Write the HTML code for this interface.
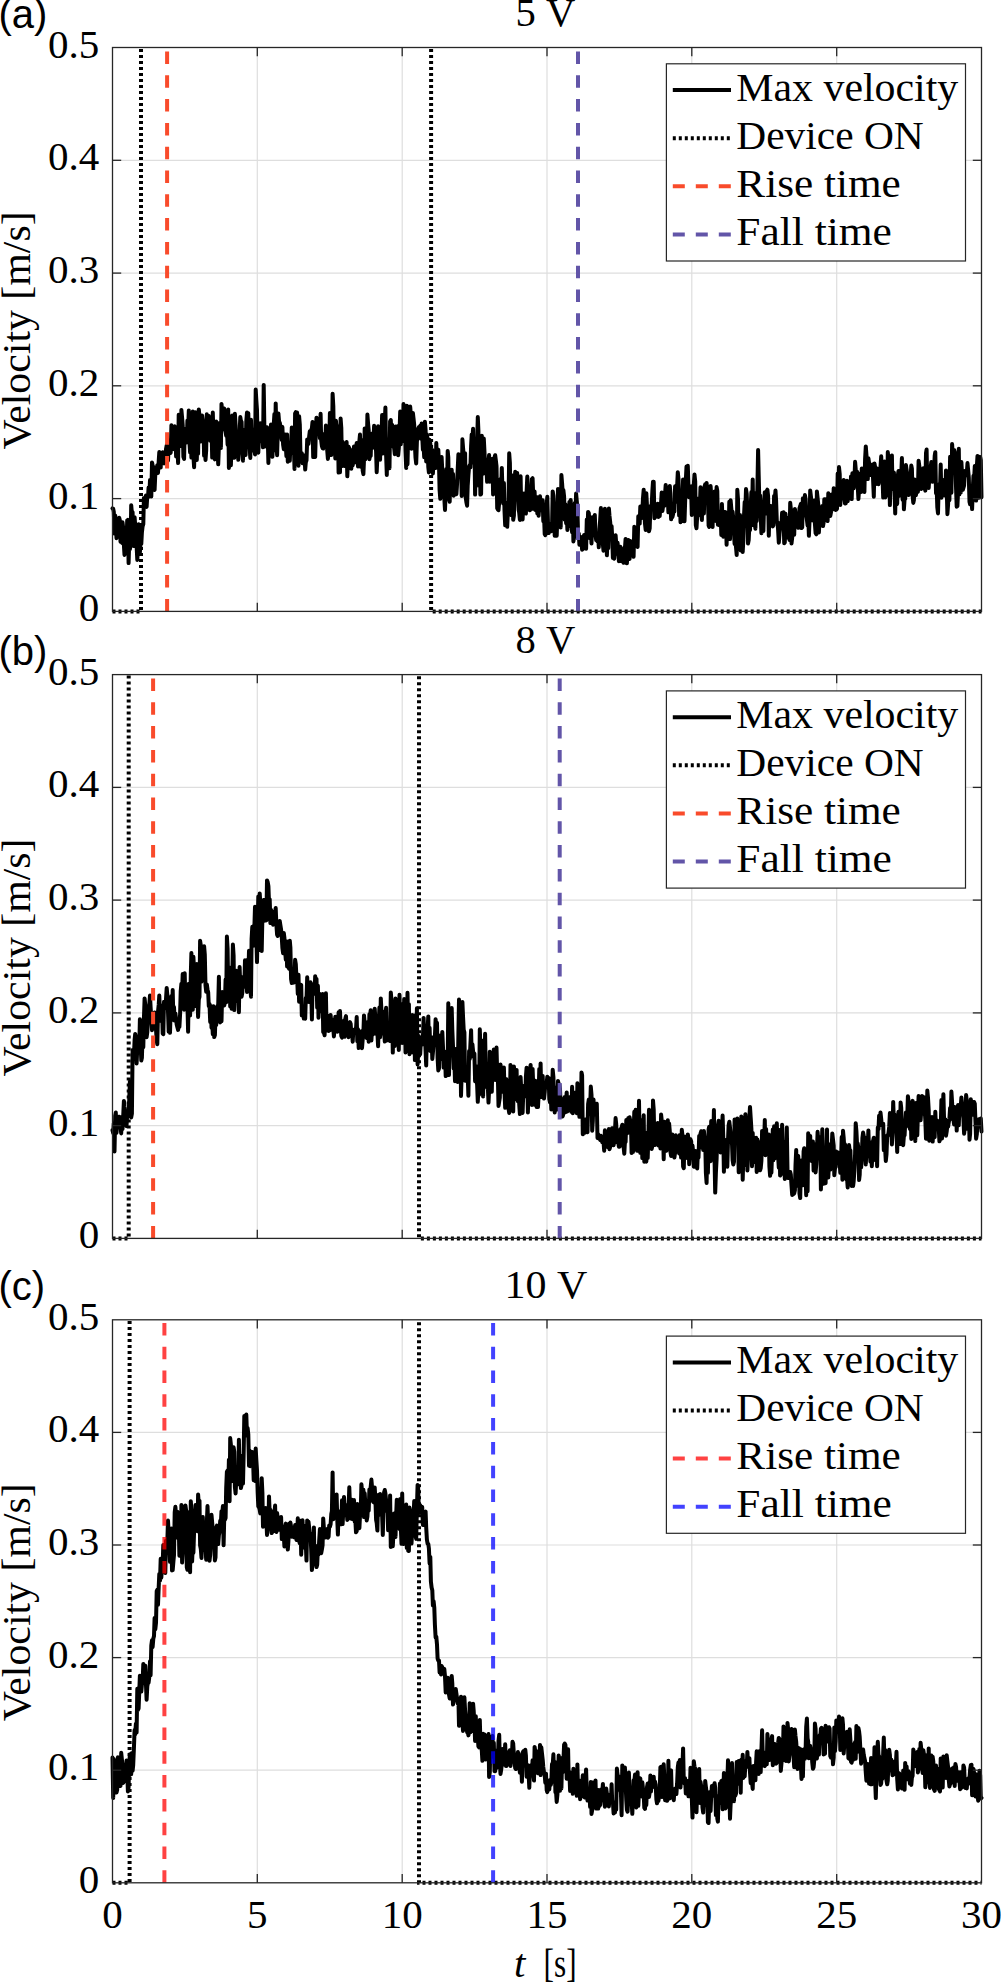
<!DOCTYPE html>
<html><head><meta charset="utf-8"><title>Velocity plots</title>
<style>
html,body{margin:0;padding:0;background:#fff;}
body{width:1001px;height:1987px;overflow:hidden;}
svg{display:block;}
.tk{font-family:"Liberation Serif", serif;font-size:41px;fill:#000;}
.lg{font-family:"Liberation Serif", serif;font-size:40px;fill:#000;}
.pl{font-family:"Liberation Sans", sans-serif;font-size:40px;fill:#000;}
</style></head>
<body>
<svg width="1001" height="1987" viewBox="0 0 1001 1987">
<rect width="1001" height="1987" fill="#fff"/>
<clipPath id="clipa"><rect x="110.0" y="47.5" width="874.0" height="566.4"/></clipPath>
<line x1="257.3" y1="47.5" x2="257.3" y2="611.4" stroke="#DEDEDE" stroke-width="1.2"/>
<line x1="402.2" y1="47.5" x2="402.2" y2="611.4" stroke="#DEDEDE" stroke-width="1.2"/>
<line x1="547.0" y1="47.5" x2="547.0" y2="611.4" stroke="#DEDEDE" stroke-width="1.2"/>
<line x1="691.8" y1="47.5" x2="691.8" y2="611.4" stroke="#DEDEDE" stroke-width="1.2"/>
<line x1="836.7" y1="47.5" x2="836.7" y2="611.4" stroke="#DEDEDE" stroke-width="1.2"/>
<line x1="112.5" y1="498.6" x2="981.5" y2="498.6" stroke="#DEDEDE" stroke-width="1.2"/>
<line x1="112.5" y1="385.8" x2="981.5" y2="385.8" stroke="#DEDEDE" stroke-width="1.2"/>
<line x1="112.5" y1="273.1" x2="981.5" y2="273.1" stroke="#DEDEDE" stroke-width="1.2"/>
<line x1="112.5" y1="160.3" x2="981.5" y2="160.3" stroke="#DEDEDE" stroke-width="1.2"/>
<g clip-path="url(#clipa)">
<polyline fill="none" stroke="#000" stroke-width="4" stroke-linejoin="round" stroke-linecap="round" points="112.5,508.4 113.2,508.8 113.8,511.8 114.5,533.6 115.2,515.5 115.8,520.3 116.5,538.2 117.2,527.1 117.9,533.3 118.5,523.4 119.2,517.7 119.9,520.5 120.5,541.7 121.2,541.6 121.9,542.8 122.5,522.2 123.2,528.1 123.9,545.2 124.5,554.9 125.2,547.1 125.9,533.7 126.5,543.8 127.2,520.5 127.9,519.8 128.6,563.1 129.2,542.4 129.9,549.1 130.6,544.9 131.2,505.2 131.9,513.2 132.6,512.2 133.2,535.0 133.9,546.0 134.6,517.2 135.2,525.7 135.9,525.9 136.6,546.0 137.3,560.0 137.9,549.5 138.6,524.2 139.3,553.8 139.9,552.2 140.6,542.2 141.3,543.8 141.9,532.4 142.6,526.3 143.3,524.2 143.9,497.9 144.6,498.1 145.3,498.2 145.9,495.6 146.6,507.0 147.3,495.6 148.0,497.3 148.6,487.5 149.3,496.1 150.0,480.1 150.6,487.0 151.3,496.5 152.0,462.4 152.6,465.0 153.3,467.6 154.0,488.6 154.6,490.0 155.3,473.7 156.0,473.9 156.7,468.7 157.3,465.2 158.0,472.9 158.7,461.4 159.3,452.1 160.0,459.1 160.7,467.6 161.3,455.7 162.0,457.3 162.7,452.2 163.3,456.7 164.0,463.4 164.7,456.5 165.3,458.9 166.0,449.2 166.7,445.3 167.4,451.1 168.0,460.7 168.7,446.6 169.4,440.2 170.0,453.1 170.7,452.8 171.4,425.3 172.0,438.6 172.7,437.7 173.4,438.7 174.0,449.2 174.7,426.2 175.4,429.2 176.1,456.4 176.7,452.6 177.4,447.6 178.1,463.1 178.7,414.7 179.4,421.3 180.1,433.2 180.7,446.1 181.4,409.9 182.1,417.6 182.7,425.2 183.4,456.9 184.1,458.9 184.7,429.0 185.4,436.8 186.1,438.9 186.8,442.4 187.4,420.5 188.1,429.2 188.8,410.5 189.4,441.9 190.1,452.3 190.8,438.7 191.4,457.6 192.1,443.0 192.8,411.5 193.4,456.0 194.1,467.2 194.8,441.8 195.5,412.3 196.1,444.5 196.8,459.9 197.5,433.6 198.1,453.6 198.8,409.5 199.5,416.0 200.1,422.6 200.8,441.5 201.5,430.5 202.1,415.4 202.8,420.5 203.5,425.6 204.1,455.8 204.8,446.6 205.5,460.0 206.2,450.2 206.8,414.3 207.5,423.9 208.2,419.1 208.8,415.9 209.5,421.6 210.2,440.7 210.8,434.4 211.5,426.4 212.2,457.6 212.8,412.6 213.5,437.7 214.2,455.1 214.9,459.4 215.5,456.0 216.2,421.5 216.9,440.1 217.5,443.7 218.2,464.3 218.9,446.3 219.5,423.0 220.2,438.3 220.9,448.0 221.5,403.9 222.2,412.4 222.9,429.3 223.6,411.4 224.2,408.5 224.9,427.1 225.6,431.9 226.2,435.8 226.9,429.2 227.6,444.7 228.2,409.5 228.9,468.0 229.6,445.5 230.2,452.9 230.9,465.3 231.6,433.7 232.2,415.4 232.9,424.2 233.6,440.8 234.3,457.8 234.9,413.8 235.6,425.1 236.3,456.1 236.9,439.2 237.6,444.9 238.3,459.8 238.9,449.0 239.6,432.6 240.3,417.0 240.9,420.7 241.6,422.0 242.3,448.5 243.0,460.7 243.6,431.5 244.3,432.9 245.0,429.6 245.6,455.0 246.3,421.2 247.0,412.4 247.6,447.0 248.3,413.3 249.0,444.3 249.6,446.0 250.3,457.9 251.0,419.8 251.6,443.5 252.3,450.6 253.0,429.6 253.7,446.5 254.3,447.1 255.0,454.4 255.7,389.5 256.3,399.9 257.0,410.2 257.7,447.1 258.3,452.7 259.0,435.0 259.7,441.8 260.3,423.3 261.0,437.3 261.7,431.1 262.4,432.1 263.0,447.3 263.7,384.9 264.4,429.0 265.0,446.4 265.7,431.7 266.4,427.3 267.0,427.2 267.7,434.6 268.4,463.0 269.0,435.4 269.7,435.1 270.4,451.4 271.0,424.6 271.7,445.0 272.4,456.8 273.1,443.6 273.7,425.5 274.4,414.0 275.1,450.3 275.7,403.4 276.4,431.9 277.1,455.3 277.7,434.2 278.4,413.4 279.1,421.8 279.7,422.5 280.4,426.0 281.1,433.6 281.8,440.0 282.4,427.1 283.1,444.7 283.8,449.2 284.4,442.9 285.1,434.4 285.8,445.5 286.4,456.1 287.1,434.5 287.8,461.8 288.4,460.8 289.1,448.4 289.8,460.8 290.4,444.4 291.1,446.4 291.8,427.4 292.5,453.0 293.1,446.8 293.8,441.5 294.5,468.9 295.1,413.5 295.8,412.2 296.5,456.5 297.1,412.6 297.8,428.0 298.5,465.8 299.1,416.2 299.8,424.4 300.5,455.7 301.2,460.3 301.8,453.2 302.5,463.2 303.2,455.3 303.8,455.4 304.5,455.6 305.2,469.6 305.8,462.4 306.5,460.4 307.2,439.4 307.8,440.9 308.5,443.7 309.2,436.2 309.8,431.2 310.5,434.9 311.2,429.9 311.9,428.1 312.5,422.0 313.2,457.1 313.9,444.2 314.5,450.8 315.2,456.9 315.9,427.0 316.5,417.7 317.2,419.6 317.9,420.3 318.5,433.4 319.2,428.0 319.9,438.1 320.6,413.7 321.2,440.6 321.9,446.1 322.6,448.2 323.2,448.5 323.9,434.0 324.6,445.1 325.2,444.5 325.9,425.6 326.6,429.2 327.2,450.0 327.9,458.9 328.6,450.7 329.2,448.5 329.9,413.1 330.6,418.8 331.3,455.1 331.9,447.5 332.6,393.7 333.3,405.8 333.9,438.6 334.6,436.6 335.3,458.4 335.9,420.8 336.6,427.6 337.3,434.4 337.9,426.2 338.6,472.6 339.3,459.1 340.0,472.3 340.6,418.5 341.3,427.9 342.0,466.1 342.6,441.8 343.3,450.4 344.0,459.9 344.6,466.1 345.3,465.8 346.0,444.5 346.6,442.0 347.3,476.3 348.0,460.2 348.6,446.8 349.3,448.4 350.0,449.4 350.7,450.3 351.3,468.7 352.0,452.9 352.7,465.4 353.3,457.8 354.0,446.4 354.7,462.6 355.3,457.0 356.0,448.1 356.7,443.1 357.3,449.2 358.0,466.5 358.7,457.5 359.4,441.0 360.0,434.5 360.7,466.7 361.4,463.6 362.0,439.9 362.7,470.6 363.4,474.1 364.0,460.0 364.7,428.4 365.4,459.2 366.0,449.6 366.7,453.0 367.4,414.5 368.0,422.3 368.7,430.1 369.4,459.3 370.1,454.7 370.7,455.9 371.4,433.8 372.1,437.4 372.7,447.8 373.4,442.9 374.1,425.8 374.7,445.1 375.4,443.1 376.1,451.6 376.7,472.2 377.4,456.6 378.1,426.3 378.8,453.9 379.4,431.8 380.1,459.8 380.8,427.2 381.4,444.2 382.1,415.1 382.8,453.4 383.4,427.3 384.1,414.4 384.8,421.6 385.4,407.6 386.1,454.1 386.8,475.0 387.4,439.2 388.1,460.0 388.8,453.4 389.5,468.2 390.1,421.4 390.8,420.1 391.5,438.2 392.1,424.7 392.8,439.4 393.5,446.9 394.1,447.6 394.8,454.3 395.5,426.4 396.1,430.0 396.8,430.8 397.5,426.2 398.2,455.3 398.8,448.3 399.5,432.8 400.2,411.5 400.8,444.2 401.5,417.0 402.2,436.1 402.8,441.0 403.5,404.1 404.2,413.3 404.8,418.6 405.5,450.9 406.2,467.9 406.8,405.8 407.5,464.2 408.2,432.9 408.9,422.0 409.5,425.0 410.2,406.6 410.9,415.9 411.5,448.8 412.2,439.3 412.9,413.1 413.5,418.2 414.2,424.7 414.9,445.3 415.5,457.4 416.2,463.5 416.9,441.5 417.6,436.3 418.2,428.6 418.9,427.2 419.6,429.0 420.2,425.9 420.9,438.7 421.6,423.5 422.2,435.8 422.9,449.7 423.6,446.0 424.2,457.2 424.9,421.7 425.6,430.0 426.2,461.4 426.9,434.3 427.6,439.9 428.3,467.1 428.9,472.5 429.6,439.8 430.3,443.7 430.9,450.5 431.6,461.4 432.3,450.1 432.9,473.5 433.6,459.1 434.3,461.9 434.9,458.9 435.6,467.9 436.3,443.1 437.0,463.6 437.6,449.5 438.3,449.7 439.0,464.1 439.6,490.1 440.3,498.8 441.0,467.9 441.6,456.9 442.3,470.8 443.0,481.2 443.6,492.1 444.3,498.2 445.0,509.9 445.7,489.7 446.3,468.9 447.0,491.3 447.7,450.9 448.3,457.4 449.0,498.7 449.7,501.8 450.3,475.9 451.0,488.3 451.7,469.7 452.3,488.6 453.0,473.9 453.7,495.7 454.3,493.5 455.0,493.1 455.7,486.8 456.4,494.2 457.0,484.8 457.7,469.5 458.4,454.3 459.0,455.1 459.7,468.4 460.4,454.6 461.0,464.9 461.7,495.9 462.4,439.3 463.0,447.2 463.7,455.1 464.4,468.1 465.1,453.2 465.7,497.5 466.4,502.3 467.1,505.7 467.7,485.6 468.4,475.2 469.1,466.8 469.7,465.2 470.4,467.4 471.1,446.0 471.7,434.4 472.4,438.2 473.1,428.7 473.7,462.8 474.4,439.9 475.1,494.6 475.8,459.3 476.4,477.7 477.1,443.9 477.8,417.1 478.4,430.6 479.1,486.0 479.8,456.4 480.4,494.6 481.1,494.1 481.8,435.7 482.4,444.9 483.1,473.7 483.8,438.6 484.5,452.1 485.1,470.5 485.8,473.0 486.5,468.4 487.1,481.8 487.8,471.2 488.5,460.7 489.1,455.0 489.8,481.7 490.5,476.3 491.1,476.1 491.8,458.9 492.5,461.9 493.1,494.4 493.8,482.7 494.5,457.4 495.2,455.2 495.8,460.1 496.5,465.9 497.2,508.1 497.8,509.4 498.5,510.2 499.2,502.3 499.8,484.3 500.5,479.1 501.2,490.1 501.8,467.9 502.5,490.9 503.2,503.4 503.9,483.1 504.5,510.3 505.2,525.3 505.9,520.2 506.5,503.3 507.2,526.8 507.9,511.3 508.5,504.8 509.2,453.3 509.9,463.1 510.5,514.1 511.2,515.0 511.9,486.9 512.5,475.4 513.2,519.8 513.9,515.6 514.6,484.4 515.2,471.8 515.9,477.6 516.6,483.4 517.2,473.1 517.9,493.8 518.6,509.7 519.2,512.7 519.9,519.9 520.6,476.2 521.2,509.6 521.9,502.3 522.6,519.4 523.3,503.2 523.9,493.4 524.6,508.7 525.3,513.2 525.9,513.5 526.6,491.6 527.3,476.6 527.9,486.9 528.6,493.9 529.3,501.8 529.9,510.3 530.6,501.3 531.3,509.0 531.9,479.0 532.6,478.2 533.3,498.0 534.0,508.8 534.6,491.6 535.3,509.9 536.0,507.3 536.6,497.0 537.3,513.3 538.0,511.0 538.6,515.8 539.3,504.7 540.0,496.2 540.6,501.5 541.3,502.4 542.0,510.5 542.7,500.3 543.3,521.3 544.0,514.8 544.7,534.0 545.3,535.2 546.0,530.9 546.7,504.6 547.3,496.8 548.0,523.2 548.7,533.1 549.3,530.0 550.0,524.1 550.7,524.0 551.3,531.3 552.0,528.7 552.7,491.4 553.4,495.8 554.0,508.7 554.7,535.8 555.4,516.8 556.0,520.7 556.7,535.8 557.4,514.9 558.0,488.9 558.7,490.0 559.4,494.5 560.0,499.0 560.7,527.4 561.4,475.0 562.1,483.3 562.7,492.3 563.4,490.1 564.1,496.5 564.7,519.6 565.4,504.3 566.1,523.3 566.7,512.9 567.4,529.9 568.1,516.8 568.7,526.2 569.4,501.9 570.1,506.6 570.7,500.0 571.4,524.9 572.1,532.4 572.8,511.8 573.4,541.4 574.1,537.1 574.8,503.0 575.4,516.0 576.1,493.5 576.8,501.3 577.4,509.2 578.1,534.4 578.8,533.7 579.4,544.7 580.1,540.1 580.8,536.9 581.5,540.3 582.1,549.7 582.8,549.1 583.5,544.7 584.1,534.9 584.8,539.0 585.5,542.0 586.1,548.7 586.8,519.6 587.5,529.7 588.1,511.9 588.8,513.0 589.5,523.7 590.1,538.3 590.8,528.8 591.5,543.4 592.2,517.3 592.8,524.4 593.5,525.5 594.2,522.6 594.8,514.9 595.5,535.1 596.2,540.1 596.8,540.2 597.5,541.4 598.2,537.5 598.8,547.3 599.5,528.6 600.2,519.3 600.9,508.0 601.5,526.0 602.2,532.0 602.9,544.5 603.5,550.7 604.2,532.9 604.9,508.8 605.5,541.5 606.2,529.8 606.9,555.3 607.5,539.8 608.2,548.1 608.9,508.4 609.5,515.9 610.2,522.2 610.9,531.9 611.6,526.2 612.2,537.1 612.9,557.9 613.6,555.6 614.2,558.7 614.9,548.6 615.6,535.2 616.2,543.5 616.9,553.8 617.6,542.8 618.2,550.1 618.9,561.2 619.6,553.9 620.3,546.8 620.9,556.1 621.6,561.3 622.3,552.5 622.9,559.6 623.6,562.7 624.3,547.7 624.9,548.8 625.6,539.0 626.3,555.0 626.9,563.3 627.6,547.9 628.3,539.9 628.9,552.4 629.6,558.9 630.3,541.1 631.0,554.6 631.6,543.6 632.3,555.2 633.0,547.6 633.6,556.8 634.3,526.7 635.0,529.4 635.6,532.2 636.3,530.8 637.0,542.8 637.6,546.9 638.3,516.2 639.0,523.8 639.7,523.6 640.3,506.5 641.0,516.6 641.7,517.9 642.3,512.1 643.0,498.2 643.7,489.7 644.3,511.1 645.0,523.8 645.7,530.1 646.3,493.2 647.0,505.9 647.7,519.4 648.3,515.1 649.0,531.3 649.7,528.3 650.4,506.6 651.0,505.7 651.7,504.5 652.4,490.7 653.0,481.7 653.7,481.7 654.4,518.2 655.0,512.1 655.7,516.9 656.4,509.0 657.0,511.0 657.7,503.7 658.4,517.0 659.1,512.4 659.7,516.1 660.4,505.8 661.1,502.4 661.7,492.6 662.4,511.0 663.1,506.0 663.7,493.9 664.4,505.8 665.1,493.3 665.7,484.9 666.4,497.3 667.1,492.4 667.8,497.8 668.4,512.3 669.1,502.4 669.8,485.9 670.4,493.1 671.1,519.3 671.8,504.8 672.4,517.1 673.1,514.0 673.8,506.4 674.4,511.6 675.1,486.3 675.8,501.8 676.4,488.1 677.1,486.5 677.8,472.2 678.5,479.1 679.1,515.5 679.8,492.8 680.5,522.3 681.1,516.7 681.8,497.3 682.5,492.5 683.1,479.4 683.8,521.3 684.5,521.3 685.1,502.9 685.8,480.5 686.5,466.6 687.2,480.1 687.8,465.7 688.5,487.7 689.2,497.3 689.8,486.2 690.5,487.8 691.2,493.1 691.8,514.9 692.5,486.0 693.2,504.3 693.8,484.8 694.5,474.4 695.2,481.4 695.8,525.0 696.5,528.2 697.2,515.8 697.9,515.7 698.5,498.6 699.2,514.3 699.9,505.1 700.5,487.2 701.2,512.2 701.9,520.0 702.5,491.3 703.2,497.9 703.9,513.4 704.5,486.5 705.2,484.3 705.9,494.2 706.6,483.0 707.2,489.7 707.9,496.4 708.6,525.5 709.2,526.9 709.9,520.5 710.6,486.1 711.2,495.7 711.9,503.9 712.6,527.0 713.2,492.8 713.9,498.1 714.6,491.5 715.2,497.8 715.9,520.9 716.6,487.0 717.3,490.8 717.9,524.7 718.6,513.3 719.3,525.2 719.9,518.6 720.6,511.2 721.3,535.0 721.9,503.9 722.6,522.1 723.3,536.7 723.9,520.0 724.6,512.0 725.3,512.0 726.0,520.2 726.6,544.8 727.3,518.0 728.0,528.9 728.6,535.3 729.3,501.8 730.0,539.1 730.6,500.3 731.3,508.1 732.0,516.0 732.6,511.8 733.3,518.8 734.0,533.3 734.6,544.0 735.3,539.1 736.0,547.0 736.7,555.0 737.3,489.8 738.0,499.2 738.7,547.2 739.3,524.0 740.0,515.0 740.7,550.4 741.3,527.3 742.0,534.2 742.7,551.9 743.3,540.6 744.0,515.8 744.7,501.9 745.4,508.0 746.0,489.1 746.7,493.7 747.4,512.4 748.0,543.5 748.7,540.0 749.4,525.0 750.0,530.2 750.7,506.3 751.4,492.1 752.0,513.9 752.7,479.5 753.4,525.3 754.0,492.8 754.7,519.0 755.4,528.7 756.1,505.1 756.7,521.0 757.4,487.3 758.1,450.0 758.7,475.6 759.4,503.3 760.1,495.5 760.7,515.4 761.4,533.2 762.1,509.1 762.7,507.0 763.4,531.0 764.1,502.6 764.8,492.2 765.4,501.7 766.1,513.4 766.8,490.9 767.4,489.7 768.1,496.0 768.8,535.8 769.4,513.8 770.1,517.5 770.8,505.9 771.4,506.7 772.1,507.4 772.8,526.4 773.4,525.2 774.1,495.9 774.8,498.3 775.5,490.5 776.1,500.6 776.8,521.0 777.5,523.1 778.1,529.9 778.8,542.7 779.5,533.6 780.1,527.8 780.8,522.6 781.5,524.3 782.1,512.7 782.8,524.3 783.5,512.3 784.2,543.3 784.8,542.5 785.5,513.7 786.2,537.5 786.8,533.3 787.5,533.3 788.2,534.0 788.8,517.4 789.5,539.9 790.2,502.7 790.8,508.5 791.5,543.5 792.2,537.6 792.8,510.5 793.5,520.9 794.2,534.7 794.9,509.1 795.5,513.3 796.2,525.0 796.9,513.5 797.5,525.2 798.2,527.8 798.9,520.8 799.5,508.1 800.2,506.3 800.9,503.8 801.5,528.1 802.2,527.4 802.9,498.3 803.6,515.6 804.2,506.4 804.9,495.0 805.6,499.0 806.2,514.0 806.9,519.7 807.6,525.5 808.2,514.3 808.9,535.8 809.6,518.6 810.2,490.5 810.9,496.3 811.6,502.2 812.2,508.2 812.9,520.4 813.6,503.0 814.3,500.5 814.9,523.7 815.6,533.1 816.3,534.3 816.9,491.4 817.6,498.0 818.3,504.6 818.9,532.4 819.6,518.3 820.3,519.7 820.9,518.0 821.6,515.2 822.3,506.0 823.0,526.1 823.6,522.6 824.3,499.2 825.0,499.3 825.6,502.3 826.3,499.3 827.0,520.4 827.6,521.0 828.3,493.3 829.0,509.6 829.6,499.1 830.3,516.0 831.0,512.1 831.6,494.5 832.3,509.7 833.0,508.9 833.7,488.2 834.3,498.9 835.0,505.2 835.7,509.9 836.3,509.5 837.0,508.8 837.7,473.5 838.3,496.0 839.0,467.1 839.7,473.9 840.3,504.9 841.0,485.5 841.7,498.5 842.4,485.2 843.0,496.3 843.7,480.1 844.4,499.1 845.0,503.5 845.7,503.3 846.4,492.4 847.0,480.7 847.7,501.2 848.4,495.7 849.0,498.2 849.7,487.5 850.4,492.4 851.0,476.4 851.7,499.1 852.4,473.2 853.1,484.3 853.7,488.2 854.4,480.4 855.1,461.8 855.7,468.8 856.4,482.4 857.1,471.8 857.7,485.4 858.4,499.1 859.1,489.5 859.7,482.5 860.4,473.4 861.1,491.9 861.8,468.4 862.4,470.0 863.1,474.0 863.8,485.5 864.4,492.0 865.1,458.8 865.8,446.4 866.4,454.3 867.1,462.1 867.8,479.1 868.4,458.2 869.1,463.1 869.8,468.1 870.4,475.1 871.1,472.2 871.8,474.1 872.5,464.4 873.1,479.6 873.8,496.7 874.5,463.5 875.1,467.1 875.8,484.2 876.5,474.0 877.1,468.6 877.8,474.5 878.5,484.2 879.1,480.8 879.8,477.2 880.5,467.0 881.2,456.3 881.8,472.1 882.5,475.9 883.2,497.6 883.8,496.1 884.5,461.5 885.2,497.5 885.8,463.9 886.5,468.2 887.2,495.4 887.8,452.1 888.5,459.6 889.2,467.1 889.9,505.1 890.5,483.3 891.2,456.5 891.9,455.5 892.5,489.1 893.2,473.1 893.9,472.6 894.5,488.4 895.2,513.5 895.9,478.6 896.5,502.9 897.2,503.8 897.9,475.1 898.5,471.1 899.2,495.9 899.9,489.1 900.6,494.9 901.2,475.6 901.9,458.0 902.6,499.7 903.2,477.7 903.9,509.3 904.6,498.8 905.2,498.9 905.9,465.0 906.6,469.8 907.2,474.5 907.9,489.0 908.6,495.0 909.3,486.8 909.9,480.0 910.6,476.8 911.3,465.6 911.9,468.6 912.6,495.9 913.3,502.9 913.9,500.1 914.6,479.4 915.3,488.9 915.9,495.2 916.6,490.7 917.3,490.0 917.9,491.8 918.6,460.7 919.3,465.9 920.0,471.1 920.6,484.0 921.3,488.9 922.0,477.9 922.6,481.1 923.3,468.3 924.0,470.4 924.6,487.1 925.3,490.6 926.0,453.1 926.6,449.5 927.3,484.5 928.0,468.9 928.7,487.9 929.3,477.7 930.0,481.5 930.7,467.3 931.3,462.1 932.0,466.9 932.7,481.8 933.3,472.3 934.0,470.6 934.7,455.8 935.3,452.2 936.0,493.3 936.7,489.1 937.3,507.2 938.0,513.4 938.7,486.6 939.4,484.0 940.0,490.4 940.7,464.5 941.4,497.8 942.0,480.9 942.7,479.9 943.4,488.1 944.0,494.6 944.7,495.5 945.4,489.9 946.0,470.4 946.7,487.1 947.4,514.2 948.1,504.3 948.7,483.4 949.4,500.1 950.1,456.7 950.7,463.5 951.4,492.8 952.1,444.1 952.7,454.0 953.4,464.0 954.1,450.0 954.7,451.6 955.4,464.9 956.1,489.5 956.7,506.7 957.4,506.2 958.1,490.8 958.8,448.8 959.4,494.3 960.1,482.3 960.8,492.5 961.4,462.0 962.1,475.0 962.8,489.8 963.4,487.9 964.1,485.5 964.8,471.0 965.4,475.5 966.1,472.5 966.8,472.9 967.5,463.1 968.1,469.8 968.8,477.5 969.5,501.7 970.1,504.3 970.8,486.6 971.5,496.1 972.1,509.1 972.8,488.3 973.5,475.7 974.1,478.9 974.8,466.1 975.5,489.0 976.1,500.6 976.8,466.8 977.5,456.0 978.2,456.3 978.8,497.7 979.5,475.5 980.2,457.0 980.8,460.2 981.5,497.2"/>
<polyline fill="none" stroke="#000" stroke-width="4" stroke-dasharray="3 3" points="112.5,611.4 141.0,611.4 141.0,27.5 431.1,27.5 431.1,611.4 981.5,611.4"/>
<line x1="167.1" y1="611.4" x2="167.1" y2="47.5" stroke="#F94B2B" stroke-width="4" stroke-dasharray="12.5 11.3"/>
<line x1="578.0" y1="611.4" x2="578.0" y2="47.5" stroke="#6255A8" stroke-width="4" stroke-dasharray="12.5 11.3"/>
</g>
<rect x="112.5" y="47.5" width="869.0" height="563.9" fill="none" stroke="#262626" stroke-width="1.3"/>
<line x1="257.3" y1="611.4" x2="257.3" y2="602.7" stroke="#262626" stroke-width="1.3"/>
<line x1="257.3" y1="47.5" x2="257.3" y2="56.2" stroke="#262626" stroke-width="1.3"/>
<line x1="402.2" y1="611.4" x2="402.2" y2="602.7" stroke="#262626" stroke-width="1.3"/>
<line x1="402.2" y1="47.5" x2="402.2" y2="56.2" stroke="#262626" stroke-width="1.3"/>
<line x1="547.0" y1="611.4" x2="547.0" y2="602.7" stroke="#262626" stroke-width="1.3"/>
<line x1="547.0" y1="47.5" x2="547.0" y2="56.2" stroke="#262626" stroke-width="1.3"/>
<line x1="691.8" y1="611.4" x2="691.8" y2="602.7" stroke="#262626" stroke-width="1.3"/>
<line x1="691.8" y1="47.5" x2="691.8" y2="56.2" stroke="#262626" stroke-width="1.3"/>
<line x1="836.7" y1="611.4" x2="836.7" y2="602.7" stroke="#262626" stroke-width="1.3"/>
<line x1="836.7" y1="47.5" x2="836.7" y2="56.2" stroke="#262626" stroke-width="1.3"/>
<line x1="112.5" y1="498.6" x2="121.2" y2="498.6" stroke="#262626" stroke-width="1.3"/>
<line x1="981.5" y1="498.6" x2="972.8" y2="498.6" stroke="#262626" stroke-width="1.3"/>
<line x1="112.5" y1="385.8" x2="121.2" y2="385.8" stroke="#262626" stroke-width="1.3"/>
<line x1="981.5" y1="385.8" x2="972.8" y2="385.8" stroke="#262626" stroke-width="1.3"/>
<line x1="112.5" y1="273.1" x2="121.2" y2="273.1" stroke="#262626" stroke-width="1.3"/>
<line x1="981.5" y1="273.1" x2="972.8" y2="273.1" stroke="#262626" stroke-width="1.3"/>
<line x1="112.5" y1="160.3" x2="121.2" y2="160.3" stroke="#262626" stroke-width="1.3"/>
<line x1="981.5" y1="160.3" x2="972.8" y2="160.3" stroke="#262626" stroke-width="1.3"/>
<text x="99.3" y="621.4" text-anchor="end" class="tk">0</text>
<text x="99.3" y="508.6" text-anchor="end" class="tk">0.1</text>
<text x="99.3" y="395.8" text-anchor="end" class="tk">0.2</text>
<text x="99.3" y="283.1" text-anchor="end" class="tk">0.3</text>
<text x="99.3" y="170.3" text-anchor="end" class="tk">0.4</text>
<text x="99.3" y="57.5" text-anchor="end" class="tk">0.5</text>
<text x="545.5" y="26.0" text-anchor="middle" class="tk" textLength="59.8" lengthAdjust="spacingAndGlyphs">5&#160;V</text>
<text x="-1.5" y="28.3" class="pl">(a)</text>
<text transform="translate(30,330.4) rotate(-90)" text-anchor="middle" class="tk" style="font-size:41px" textLength="238" lengthAdjust="spacingAndGlyphs">Velocity [m/s]</text>
<rect x="666.4" y="63.8" width="299.1" height="197.2" fill="#fff" stroke="#262626" stroke-width="1.2"/>
<line x1="672.8" y1="90.1" x2="731" y2="90.1" stroke="#000" stroke-width="4"/>
<text x="736.3" y="100.6" class="lg" textLength="222.0" lengthAdjust="spacingAndGlyphs">Max velocity</text>
<line x1="672.8" y1="138.2" x2="731" y2="138.2" stroke="#000" stroke-width="4" stroke-dasharray="3 3"/>
<text x="736.3" y="148.7" class="lg" textLength="187.5" lengthAdjust="spacingAndGlyphs">Device ON</text>
<line x1="672.8" y1="186.3" x2="731" y2="186.3" stroke="#F94B2B" stroke-width="4" stroke-dasharray="12 11"/>
<text x="736.3" y="196.8" class="lg" textLength="164.5" lengthAdjust="spacingAndGlyphs">Rise time</text>
<line x1="672.8" y1="234.4" x2="731" y2="234.4" stroke="#6255A8" stroke-width="4" stroke-dasharray="12 11"/>
<text x="736.3" y="244.9" class="lg" textLength="155.5" lengthAdjust="spacingAndGlyphs">Fall time</text>
<clipPath id="clipb"><rect x="110.0" y="674.6" width="874.0" height="566.3"/></clipPath>
<line x1="257.3" y1="674.6" x2="257.3" y2="1238.4" stroke="#DEDEDE" stroke-width="1.2"/>
<line x1="402.2" y1="674.6" x2="402.2" y2="1238.4" stroke="#DEDEDE" stroke-width="1.2"/>
<line x1="547.0" y1="674.6" x2="547.0" y2="1238.4" stroke="#DEDEDE" stroke-width="1.2"/>
<line x1="691.8" y1="674.6" x2="691.8" y2="1238.4" stroke="#DEDEDE" stroke-width="1.2"/>
<line x1="836.7" y1="674.6" x2="836.7" y2="1238.4" stroke="#DEDEDE" stroke-width="1.2"/>
<line x1="112.5" y1="1125.6" x2="981.5" y2="1125.6" stroke="#DEDEDE" stroke-width="1.2"/>
<line x1="112.5" y1="1012.9" x2="981.5" y2="1012.9" stroke="#DEDEDE" stroke-width="1.2"/>
<line x1="112.5" y1="900.1" x2="981.5" y2="900.1" stroke="#DEDEDE" stroke-width="1.2"/>
<line x1="112.5" y1="787.4" x2="981.5" y2="787.4" stroke="#DEDEDE" stroke-width="1.2"/>
<g clip-path="url(#clipb)">
<polyline fill="none" stroke="#000" stroke-width="4" stroke-linejoin="round" stroke-linecap="round" points="112.5,1130.2 113.2,1133.1 113.8,1123.3 114.5,1151.5 115.2,1115.9 115.8,1112.5 116.5,1132.9 117.2,1122.9 117.9,1124.5 118.5,1117.0 119.2,1116.7 119.9,1123.7 120.5,1125.9 121.2,1133.4 121.9,1117.0 122.5,1129.1 123.2,1116.4 123.9,1100.9 124.5,1107.0 125.2,1112.7 125.9,1123.7 126.5,1126.0 127.2,1114.8 127.9,1111.1 128.6,1116.2 129.2,1100.8 129.9,1081.4 130.6,1097.0 131.2,1117.5 131.9,1113.7 132.6,1050.0 133.2,1053.2 133.9,1056.7 134.6,1040.0 135.2,1034.0 135.9,1037.0 136.6,1063.4 137.3,1047.2 137.9,1051.6 138.6,1051.7 139.3,1045.8 139.9,1019.2 140.6,1045.0 141.3,1060.5 141.9,1057.9 142.6,1034.9 143.3,1047.1 143.9,1019.3 144.6,998.4 145.3,1005.2 145.9,1012.3 146.6,1037.2 147.3,1032.2 148.0,1015.0 148.6,1006.4 149.3,1004.9 150.0,995.4 150.6,1007.0 151.3,1018.3 152.0,1030.2 152.6,1018.9 153.3,1026.2 154.0,1024.0 154.6,1012.6 155.3,1013.0 156.0,1029.5 156.7,1040.2 157.3,1044.2 158.0,1011.7 158.7,1004.9 159.3,995.5 160.0,1014.5 160.7,1020.9 161.3,1009.2 162.0,1005.8 162.7,1033.5 163.3,1034.2 164.0,1001.7 164.7,1002.7 165.3,1007.8 166.0,999.2 166.7,987.9 167.4,995.7 168.0,1011.3 168.7,1031.6 169.4,1024.8 170.0,1032.8 170.7,1009.2 171.4,996.0 172.0,1017.2 172.7,990.0 173.4,1019.9 174.0,1007.0 174.7,1020.6 175.4,1013.4 176.1,1019.2 176.7,1024.5 177.4,1027.2 178.1,1029.9 178.7,1025.1 179.4,1026.8 180.1,1014.0 180.7,991.2 181.4,983.8 182.1,992.6 182.7,974.1 183.4,980.5 184.1,1009.8 184.7,973.3 185.4,1003.1 186.1,992.8 186.8,1003.5 187.4,1003.6 188.1,1031.7 188.8,983.8 189.4,1003.6 190.1,1015.4 190.8,974.6 191.4,953.1 192.1,975.0 192.8,1009.8 193.4,956.8 194.1,971.5 194.8,974.9 195.5,971.8 196.1,1006.3 196.8,964.1 197.5,997.9 198.1,1017.0 198.8,999.4 199.5,996.7 200.1,940.8 200.8,945.4 201.5,981.6 202.1,968.4 202.8,976.9 203.5,952.3 204.1,946.2 204.8,954.6 205.5,985.2 206.2,991.8 206.8,984.4 207.5,989.4 208.2,992.5 208.8,1006.1 209.5,1003.8 210.2,1022.0 210.8,1006.0 211.5,1027.8 212.2,1021.9 212.8,1034.2 213.5,1006.2 214.2,1037.1 214.9,1035.1 215.5,1015.8 216.2,1025.1 216.9,1011.3 217.5,1005.9 218.2,1005.2 218.9,976.7 219.5,1021.3 220.2,1022.3 220.9,1001.4 221.5,1021.2 222.2,991.9 222.9,998.9 223.6,997.2 224.2,1005.6 224.9,1002.6 225.6,979.6 226.2,1002.3 226.9,936.6 227.6,948.5 228.2,990.6 228.9,967.2 229.6,976.1 230.2,1006.4 230.9,995.9 231.6,1008.7 232.2,981.3 232.9,944.6 233.6,955.5 234.3,1010.1 234.9,995.3 235.6,1001.5 236.3,970.7 236.9,975.1 237.6,985.8 238.3,976.0 238.9,1012.2 239.6,967.0 240.3,987.1 240.9,985.3 241.6,996.7 242.3,993.0 243.0,977.1 243.6,987.0 244.3,986.6 245.0,960.2 245.6,963.7 246.3,967.2 247.0,992.0 247.6,959.8 248.3,975.8 249.0,950.8 249.6,954.6 250.3,987.7 251.0,996.7 251.6,938.8 252.3,926.8 253.0,942.4 253.7,945.6 254.3,929.8 255.0,906.8 255.7,914.5 256.3,933.4 257.0,962.1 257.7,923.9 258.3,896.5 259.0,949.9 259.7,893.5 260.3,902.3 261.0,928.1 261.7,951.0 262.4,916.9 263.0,913.1 263.7,900.1 264.4,920.7 265.0,899.8 265.7,920.6 266.4,920.2 267.0,880.4 267.7,882.0 268.4,886.0 269.0,902.4 269.7,899.1 270.4,923.1 271.0,909.7 271.7,915.3 272.4,919.4 273.1,924.7 273.7,911.7 274.4,912.9 275.1,912.1 275.7,908.0 276.4,924.9 277.1,934.6 277.7,936.0 278.4,933.5 279.1,927.1 279.7,920.9 280.4,925.3 281.1,929.6 281.8,937.8 282.4,948.0 283.1,953.3 283.8,932.9 284.4,937.8 285.1,950.6 285.8,959.5 286.4,941.2 287.1,966.5 287.8,959.7 288.4,967.1 289.1,968.7 289.8,940.7 290.4,947.7 291.1,979.1 291.8,983.1 292.5,980.1 293.1,981.4 293.8,982.6 294.5,978.4 295.1,959.8 295.8,964.0 296.5,979.4 297.1,976.7 297.8,993.8 298.5,974.7 299.1,1001.7 299.8,1001.5 300.5,987.5 301.2,984.9 301.8,1015.4 302.5,1012.4 303.2,1008.2 303.8,1018.6 304.5,1015.4 305.2,1018.7 305.8,998.0 306.5,999.7 307.2,977.3 307.8,993.4 308.5,990.5 309.2,1002.1 309.8,996.7 310.5,982.3 311.2,987.9 311.9,1019.5 312.5,988.8 313.2,984.5 313.9,984.3 314.5,993.8 315.2,976.2 315.9,988.9 316.5,978.9 317.2,1007.6 317.9,985.8 318.5,1017.8 319.2,993.6 319.9,998.9 320.6,1005.7 321.2,1011.2 321.9,1007.7 322.6,994.0 323.2,1032.0 323.9,1032.5 324.6,1035.3 325.2,1010.5 325.9,993.3 326.6,1030.6 327.2,1019.1 327.9,1015.7 328.6,1031.0 329.2,1017.9 329.9,1030.2 330.6,1014.9 331.3,1023.0 331.9,1024.9 332.6,1020.1 333.3,1028.4 333.9,1036.4 334.6,1028.0 335.3,1016.8 335.9,1021.9 336.6,1024.6 337.3,1031.8 337.9,1025.8 338.6,1012.3 339.3,1023.7 340.0,1011.0 340.6,1025.1 341.3,1035.9 342.0,1037.6 342.6,1025.8 343.3,1030.4 344.0,1020.7 344.6,1036.8 345.3,1018.8 346.0,1016.1 346.6,1029.3 347.3,1029.7 348.0,1024.2 348.6,1037.2 349.3,1024.8 350.0,1022.1 350.7,1024.0 351.3,1034.0 352.0,1031.7 352.7,1041.7 353.3,1031.6 354.0,1029.9 354.7,1032.2 355.3,1029.9 356.0,1029.3 356.7,1017.0 357.3,1041.2 358.0,1029.2 358.7,1048.1 359.4,1045.4 360.0,1034.6 360.7,1034.9 361.4,1031.4 362.0,1048.2 362.7,1039.3 363.4,1032.2 364.0,1015.4 364.7,1023.5 365.4,1023.5 366.0,1036.2 366.7,1037.9 367.4,1033.4 368.0,1022.1 368.7,1041.7 369.4,1014.3 370.1,1015.1 370.7,1010.2 371.4,1040.4 372.1,1027.5 372.7,1034.7 373.4,1017.1 374.1,1019.9 374.7,1008.7 375.4,1018.6 376.1,1033.8 376.7,1022.8 377.4,1032.6 378.1,1046.2 378.8,1021.5 379.4,1007.6 380.1,1037.3 380.8,998.4 381.4,1009.8 382.1,1033.4 382.8,1028.4 383.4,1011.7 384.1,1031.3 384.8,1041.5 385.4,1017.4 386.1,1007.8 386.8,1040.4 387.4,1029.3 388.1,1024.3 388.8,1036.2 389.5,1033.5 390.1,1041.1 390.8,992.5 391.5,1000.5 392.1,1010.5 392.8,1052.6 393.5,1017.7 394.1,1024.0 394.8,1045.9 395.5,998.5 396.1,1005.6 396.8,1012.7 397.5,1022.5 398.2,1020.4 398.8,1050.0 399.5,994.7 400.2,1026.8 400.8,1026.7 401.5,1004.0 402.2,1043.0 402.8,1007.8 403.5,1023.8 404.2,999.0 404.8,1003.2 405.5,1052.4 406.2,1026.6 406.8,1036.7 407.5,992.7 408.2,1026.6 408.9,1004.3 409.5,1054.3 410.2,1048.8 410.9,1034.8 411.5,1045.7 412.2,1015.1 412.9,1052.4 413.5,1044.3 414.2,1015.6 414.9,1060.1 415.5,1043.8 416.2,1057.2 416.9,1008.2 417.6,1064.5 418.2,1053.0 418.9,1036.0 419.6,1041.1 420.2,1054.2 420.9,1039.6 421.6,1039.9 422.2,1044.5 422.9,1038.1 423.6,1017.9 424.2,1037.0 424.9,1031.8 425.6,1051.1 426.2,1065.4 426.9,1030.5 427.6,1027.9 428.3,1016.4 428.9,1044.9 429.6,1027.7 430.3,1051.0 430.9,1044.3 431.6,1037.2 432.3,1059.0 432.9,1052.5 433.6,1043.5 434.3,1044.7 434.9,1036.6 435.6,1019.2 436.3,1026.3 437.0,1022.8 437.6,1058.0 438.3,1070.4 439.0,1068.5 439.6,1037.6 440.3,1035.5 441.0,1055.2 441.6,1059.1 442.3,1031.9 443.0,1047.0 443.6,1067.6 444.3,1059.5 445.0,1051.8 445.7,1076.1 446.3,1066.5 447.0,1058.7 447.7,1064.2 448.3,1003.3 449.0,1075.0 449.7,1037.1 450.3,1051.0 451.0,1043.5 451.7,1008.0 452.3,1029.8 453.0,1046.2 453.7,1068.5 454.3,1058.7 455.0,1081.3 455.7,1049.1 456.4,1062.3 457.0,1062.2 457.7,1082.0 458.4,1033.0 459.0,999.6 459.7,1013.7 460.4,1027.7 461.0,1095.9 461.7,1072.9 462.4,1001.9 463.0,1015.9 463.7,1029.9 464.4,1032.3 465.1,1080.8 465.7,1070.8 466.4,1076.0 467.1,1067.5 467.7,1075.4 468.4,1095.7 469.1,1051.0 469.7,1059.1 470.4,1044.6 471.1,1030.2 471.7,1056.4 472.4,1044.2 473.1,1051.5 473.7,1053.3 474.4,1053.6 475.1,1081.2 475.8,1066.0 476.4,1081.4 477.1,1084.2 477.8,1101.8 478.4,1088.4 479.1,1094.7 479.8,1029.3 480.4,1046.9 481.1,1061.3 481.8,1040.4 482.4,1062.2 483.1,1096.4 483.8,1054.9 484.5,1068.4 485.1,1033.7 485.8,1073.5 486.5,1077.5 487.1,1087.6 487.8,1085.7 488.5,1102.6 489.1,1090.3 489.8,1051.7 490.5,1053.3 491.1,1082.2 491.8,1091.7 492.5,1059.6 493.1,1065.9 493.8,1049.5 494.5,1062.1 495.2,1079.9 495.8,1060.1 496.5,1047.6 497.2,1073.2 497.8,1073.2 498.5,1105.9 499.2,1101.5 499.8,1097.7 500.5,1064.4 501.2,1070.4 501.8,1087.9 502.5,1091.7 503.2,1088.0 503.9,1067.6 504.5,1091.6 505.2,1107.8 505.9,1085.3 506.5,1079.3 507.2,1086.2 507.9,1082.7 508.5,1108.3 509.2,1112.9 509.9,1103.0 510.5,1064.9 511.2,1086.4 511.9,1105.3 512.5,1081.2 513.2,1111.4 513.9,1066.5 514.6,1073.2 515.2,1079.8 515.9,1098.9 516.6,1069.9 517.2,1099.2 517.9,1101.3 518.6,1089.6 519.2,1103.9 519.9,1114.0 520.6,1077.1 521.2,1089.2 521.9,1111.2 522.6,1112.8 523.3,1092.1 523.9,1090.6 524.6,1085.6 525.3,1096.2 525.9,1076.7 526.6,1067.7 527.3,1083.5 527.9,1112.5 528.6,1081.8 529.3,1083.7 529.9,1071.1 530.6,1064.9 531.3,1080.6 531.9,1105.0 532.6,1068.9 533.3,1087.4 534.0,1098.3 534.6,1104.8 535.3,1080.7 536.0,1090.2 536.6,1106.9 537.3,1095.2 538.0,1107.1 538.6,1095.1 539.3,1068.9 540.0,1086.7 540.6,1063.4 541.3,1097.1 542.0,1082.0 542.7,1076.0 543.3,1094.6 544.0,1098.6 544.7,1092.0 545.3,1084.0 546.0,1088.0 546.7,1083.2 547.3,1076.7 548.0,1086.7 548.7,1078.1 549.3,1099.1 550.0,1102.4 550.7,1091.7 551.3,1109.5 552.0,1095.4 552.7,1069.8 553.4,1076.9 554.0,1097.4 554.7,1112.4 555.4,1087.6 556.0,1090.0 556.7,1109.7 557.4,1104.5 558.0,1080.9 558.7,1084.8 559.4,1084.4 560.0,1088.9 560.7,1108.0 561.4,1105.6 562.1,1116.6 562.7,1116.1 563.4,1113.7 564.1,1098.3 564.7,1097.1 565.4,1112.3 566.1,1100.7 566.7,1092.4 567.4,1111.4 568.1,1110.7 568.7,1108.4 569.4,1109.2 570.1,1097.1 570.7,1100.1 571.4,1111.8 572.1,1086.8 572.8,1113.2 573.4,1098.4 574.1,1100.6 574.8,1092.7 575.4,1100.9 576.1,1098.3 576.8,1113.2 577.4,1083.3 578.1,1106.3 578.8,1104.3 579.4,1116.8 580.1,1099.8 580.8,1113.4 581.5,1072.4 582.1,1075.2 582.8,1134.3 583.5,1123.7 584.1,1127.7 584.8,1132.8 585.5,1119.5 586.1,1130.1 586.8,1128.0 587.5,1132.3 588.1,1104.1 588.8,1099.5 589.5,1113.8 590.1,1109.0 590.8,1086.6 591.5,1094.8 592.2,1130.7 592.8,1121.1 593.5,1099.4 594.2,1111.1 594.8,1110.0 595.5,1114.4 596.2,1105.7 596.8,1103.7 597.5,1138.0 598.2,1134.2 598.8,1138.4 599.5,1138.3 600.2,1140.0 600.9,1135.7 601.5,1138.0 602.2,1142.3 602.9,1140.2 603.5,1141.6 604.2,1150.7 604.9,1130.3 605.5,1138.0 606.2,1146.5 606.9,1141.0 607.5,1140.1 608.2,1147.5 608.9,1129.0 609.5,1149.2 610.2,1147.0 610.9,1134.7 611.6,1130.0 612.2,1128.2 612.9,1132.4 613.6,1145.2 614.2,1141.8 614.9,1131.8 615.6,1118.1 616.2,1124.0 616.9,1142.2 617.6,1132.8 618.2,1141.9 618.9,1146.8 619.6,1146.6 620.3,1129.3 620.9,1136.9 621.6,1127.8 622.3,1124.7 622.9,1131.3 623.6,1146.9 624.3,1153.7 624.9,1142.3 625.6,1141.9 626.3,1120.0 626.9,1124.5 627.6,1133.1 628.3,1118.0 628.9,1120.7 629.6,1117.3 630.3,1121.1 631.0,1125.0 631.6,1152.9 632.3,1126.8 633.0,1151.9 633.6,1132.5 634.3,1111.7 635.0,1117.5 635.6,1109.8 636.3,1115.0 637.0,1150.8 637.6,1140.4 638.3,1139.9 639.0,1100.7 639.7,1145.7 640.3,1152.8 641.0,1149.6 641.7,1120.1 642.3,1158.1 643.0,1132.7 643.7,1115.3 644.3,1161.7 645.0,1132.6 645.7,1143.0 646.3,1161.7 647.0,1152.5 647.7,1158.1 648.3,1138.9 649.0,1109.8 649.7,1112.0 650.4,1127.8 651.0,1132.8 651.7,1148.9 652.4,1145.6 653.0,1100.4 653.7,1109.3 654.4,1142.0 655.0,1145.0 655.7,1130.7 656.4,1131.0 657.0,1128.6 657.7,1123.1 658.4,1145.5 659.1,1132.6 659.7,1135.8 660.4,1148.4 661.1,1114.4 661.7,1120.3 662.4,1139.0 663.1,1134.7 663.7,1159.2 664.4,1121.7 665.1,1127.0 665.7,1148.1 666.4,1150.7 667.1,1131.8 667.8,1120.3 668.4,1142.0 669.1,1123.5 669.8,1131.1 670.4,1151.7 671.1,1156.0 671.8,1147.3 672.4,1134.6 673.1,1143.1 673.8,1153.9 674.4,1157.6 675.1,1152.4 675.8,1135.2 676.4,1147.3 677.1,1149.5 677.8,1142.2 678.5,1150.7 679.1,1153.4 679.8,1134.9 680.5,1139.3 681.1,1157.6 681.8,1129.7 682.5,1135.7 683.1,1166.4 683.8,1168.2 684.5,1136.7 685.1,1147.6 685.8,1136.7 686.5,1156.2 687.2,1157.9 687.8,1134.4 688.5,1139.4 689.2,1164.2 689.8,1154.6 690.5,1139.3 691.2,1141.3 691.8,1156.2 692.5,1145.6 693.2,1152.5 693.8,1166.7 694.5,1166.8 695.2,1150.9 695.8,1152.4 696.5,1155.7 697.2,1168.5 697.9,1150.8 698.5,1157.7 699.2,1135.9 699.9,1147.3 700.5,1133.6 701.2,1131.2 701.9,1134.2 702.5,1133.3 703.2,1150.0 703.9,1130.9 704.5,1136.6 705.2,1140.8 705.9,1173.2 706.6,1182.9 707.2,1150.9 707.9,1173.0 708.6,1129.4 709.2,1126.7 709.9,1158.2 710.6,1161.1 711.2,1121.1 711.9,1128.9 712.6,1136.6 713.2,1147.1 713.9,1110.0 714.6,1161.4 715.2,1192.6 715.9,1172.8 716.6,1159.2 717.3,1135.1 717.9,1125.7 718.6,1120.7 719.3,1141.2 719.9,1134.0 720.6,1152.5 721.3,1136.8 721.9,1131.2 722.6,1115.6 723.3,1138.3 723.9,1171.8 724.6,1139.8 725.3,1161.5 726.0,1149.5 726.6,1154.6 727.3,1166.7 728.0,1141.0 728.6,1125.3 729.3,1121.8 730.0,1127.6 730.6,1133.8 731.3,1142.0 732.0,1143.8 732.6,1159.9 733.3,1164.5 734.0,1161.8 734.6,1119.4 735.3,1126.3 736.0,1133.3 736.7,1141.0 737.3,1118.6 738.0,1131.0 738.7,1172.3 739.3,1157.4 740.0,1164.9 740.7,1150.4 741.3,1116.6 742.0,1122.9 742.7,1179.8 743.3,1158.9 744.0,1159.3 744.7,1122.5 745.4,1114.2 746.0,1165.2 746.7,1135.7 747.4,1170.4 748.0,1157.4 748.7,1147.9 749.4,1117.1 750.0,1106.9 750.7,1117.8 751.4,1128.7 752.0,1166.3 752.7,1132.9 753.4,1158.9 754.0,1162.1 754.7,1142.1 755.4,1155.7 756.1,1137.8 756.7,1171.9 757.4,1139.5 758.1,1159.0 758.7,1141.9 759.4,1167.6 760.1,1170.3 760.7,1168.2 761.4,1160.8 762.1,1130.9 762.7,1137.6 763.4,1139.0 764.1,1143.4 764.8,1120.0 765.4,1155.2 766.1,1129.0 766.8,1153.3 767.4,1146.2 768.1,1144.1 768.8,1134.4 769.4,1166.3 770.1,1175.8 770.8,1163.4 771.4,1172.8 772.1,1152.5 772.8,1129.6 773.4,1160.2 774.1,1126.3 774.8,1148.9 775.5,1157.9 776.1,1152.7 776.8,1123.2 777.5,1147.2 778.1,1155.6 778.8,1167.6 779.5,1130.0 780.1,1175.5 780.8,1174.5 781.5,1169.8 782.1,1124.8 782.8,1166.6 783.5,1141.4 784.2,1155.2 784.8,1179.0 785.5,1162.6 786.2,1149.5 786.8,1127.6 787.5,1169.6 788.2,1178.1 788.8,1174.8 789.5,1172.3 790.2,1172.1 790.8,1174.5 791.5,1185.4 792.2,1194.9 792.8,1190.7 793.5,1194.0 794.2,1193.3 794.9,1190.2 795.5,1165.4 796.2,1150.0 796.9,1185.8 797.5,1155.5 798.2,1156.1 798.9,1163.9 799.5,1193.6 800.2,1198.1 800.9,1165.5 801.5,1160.6 802.2,1168.4 802.9,1185.2 803.6,1151.4 804.2,1148.2 804.9,1167.2 805.6,1177.0 806.2,1195.3 806.9,1151.5 807.6,1191.3 808.2,1133.2 808.9,1141.1 809.6,1149.1 810.2,1136.1 810.9,1160.3 811.6,1160.9 812.2,1149.7 812.9,1141.6 813.6,1170.6 814.3,1144.2 814.9,1158.2 815.6,1172.4 816.3,1164.1 816.9,1152.1 817.6,1131.8 818.3,1141.2 818.9,1149.1 819.6,1137.0 820.3,1142.0 820.9,1189.4 821.6,1154.4 822.3,1129.2 823.0,1177.8 823.6,1183.8 824.3,1172.3 825.0,1177.6 825.6,1183.2 826.3,1154.3 827.0,1129.6 827.6,1177.5 828.3,1177.5 829.0,1162.8 829.6,1144.6 830.3,1169.6 831.0,1147.9 831.6,1149.2 832.3,1133.4 833.0,1139.5 833.7,1145.6 834.3,1175.2 835.0,1168.1 835.7,1166.9 836.3,1151.6 837.0,1154.1 837.7,1152.4 838.3,1156.9 839.0,1159.2 839.7,1163.0 840.3,1172.8 841.0,1161.3 841.7,1137.0 842.4,1179.7 843.0,1130.7 843.7,1138.0 844.4,1149.8 845.0,1144.3 845.7,1154.3 846.4,1179.6 847.0,1177.8 847.7,1187.4 848.4,1162.4 849.0,1145.0 849.7,1150.8 850.4,1150.4 851.0,1171.2 851.7,1185.9 852.4,1176.4 853.1,1185.9 853.7,1180.9 854.4,1170.5 855.1,1153.6 855.7,1123.3 856.4,1130.9 857.1,1145.1 857.7,1143.3 858.4,1148.0 859.1,1180.1 859.7,1174.8 860.4,1148.3 861.1,1167.5 861.8,1159.6 862.4,1138.1 863.1,1132.6 863.8,1136.4 864.4,1143.4 865.1,1137.8 865.8,1164.4 866.4,1150.8 867.1,1153.6 867.8,1144.6 868.4,1130.4 869.1,1155.2 869.8,1152.9 870.4,1161.5 871.1,1142.4 871.8,1166.2 872.5,1151.3 873.1,1140.8 873.8,1137.7 874.5,1146.3 875.1,1154.1 875.8,1160.5 876.5,1139.2 877.1,1166.3 877.8,1127.6 878.5,1129.1 879.1,1115.7 879.8,1123.1 880.5,1112.5 881.2,1118.9 881.8,1125.2 882.5,1124.1 883.2,1123.9 883.8,1150.2 884.5,1145.3 885.2,1150.2 885.8,1161.0 886.5,1154.4 887.2,1135.6 887.8,1135.7 888.5,1133.0 889.2,1126.9 889.9,1113.0 890.5,1117.8 891.2,1122.6 891.9,1144.4 892.5,1133.1 893.2,1101.9 893.9,1122.4 894.5,1114.6 895.2,1118.2 895.9,1121.8 896.5,1132.3 897.2,1152.0 897.9,1116.2 898.5,1111.8 899.2,1130.5 899.9,1144.1 900.6,1102.4 901.2,1107.8 901.9,1135.3 902.6,1134.5 903.2,1145.2 903.9,1135.9 904.6,1135.4 905.2,1123.6 905.9,1112.4 906.6,1126.0 907.2,1118.6 907.9,1096.3 908.6,1101.8 909.3,1126.0 909.9,1128.9 910.6,1110.2 911.3,1139.0 911.9,1104.1 912.6,1100.9 913.3,1105.4 913.9,1109.9 914.6,1131.2 915.3,1141.0 915.9,1103.0 916.6,1135.2 917.3,1135.2 917.9,1113.8 918.6,1096.1 919.3,1101.8 920.0,1107.5 920.6,1120.3 921.3,1109.5 922.0,1096.0 922.6,1113.5 923.3,1105.5 924.0,1097.2 924.6,1108.8 925.3,1119.1 926.0,1138.6 926.6,1138.8 927.3,1090.5 928.0,1097.8 928.7,1109.8 929.3,1140.7 930.0,1134.4 930.7,1138.9 931.3,1136.4 932.0,1117.1 932.7,1141.6 933.3,1121.5 934.0,1135.4 934.7,1137.1 935.3,1111.8 936.0,1129.1 936.7,1120.3 937.3,1127.4 938.0,1121.0 938.7,1127.3 939.4,1141.3 940.0,1139.5 940.7,1130.4 941.4,1100.0 942.0,1138.5 942.7,1112.2 943.4,1094.2 944.0,1117.0 944.7,1124.8 945.4,1119.5 946.0,1135.8 946.7,1131.5 947.4,1124.6 948.1,1126.6 948.7,1122.7 949.4,1119.0 950.1,1108.0 950.7,1118.9 951.4,1091.6 952.1,1102.3 952.7,1118.4 953.4,1119.5 954.1,1124.4 954.7,1107.0 955.4,1113.7 956.1,1108.9 956.7,1130.6 957.4,1112.4 958.1,1104.9 958.8,1125.2 959.4,1106.2 960.1,1111.7 960.8,1105.3 961.4,1097.5 962.1,1104.0 962.8,1113.3 963.4,1118.4 964.1,1133.7 964.8,1127.6 965.4,1123.6 966.1,1095.1 966.8,1100.9 967.5,1110.6 968.1,1129.1 968.8,1106.9 969.5,1139.8 970.1,1134.0 970.8,1099.3 971.5,1104.7 972.1,1110.0 972.8,1114.7 973.5,1102.2 974.1,1102.0 974.8,1103.7 975.5,1122.4 976.1,1138.7 976.8,1134.5 977.5,1124.3 978.2,1127.1 978.8,1119.2 979.5,1119.6 980.2,1123.0 980.8,1118.5 981.5,1131.5"/>
<polyline fill="none" stroke="#000" stroke-width="4" stroke-dasharray="3 3" points="112.5,1238.4 128.7,1238.4 128.7,654.6 419.0,654.6 419.0,1238.4 981.5,1238.4"/>
<line x1="153.1" y1="1238.4" x2="153.1" y2="674.6" stroke="#F94B2B" stroke-width="4" stroke-dasharray="12.5 11.3"/>
<line x1="559.7" y1="1238.4" x2="559.7" y2="674.6" stroke="#6255A8" stroke-width="4" stroke-dasharray="12.5 11.3"/>
</g>
<rect x="112.5" y="674.6" width="869.0" height="563.8" fill="none" stroke="#262626" stroke-width="1.3"/>
<line x1="257.3" y1="1238.4" x2="257.3" y2="1229.7" stroke="#262626" stroke-width="1.3"/>
<line x1="257.3" y1="674.6" x2="257.3" y2="683.3" stroke="#262626" stroke-width="1.3"/>
<line x1="402.2" y1="1238.4" x2="402.2" y2="1229.7" stroke="#262626" stroke-width="1.3"/>
<line x1="402.2" y1="674.6" x2="402.2" y2="683.3" stroke="#262626" stroke-width="1.3"/>
<line x1="547.0" y1="1238.4" x2="547.0" y2="1229.7" stroke="#262626" stroke-width="1.3"/>
<line x1="547.0" y1="674.6" x2="547.0" y2="683.3" stroke="#262626" stroke-width="1.3"/>
<line x1="691.8" y1="1238.4" x2="691.8" y2="1229.7" stroke="#262626" stroke-width="1.3"/>
<line x1="691.8" y1="674.6" x2="691.8" y2="683.3" stroke="#262626" stroke-width="1.3"/>
<line x1="836.7" y1="1238.4" x2="836.7" y2="1229.7" stroke="#262626" stroke-width="1.3"/>
<line x1="836.7" y1="674.6" x2="836.7" y2="683.3" stroke="#262626" stroke-width="1.3"/>
<line x1="112.5" y1="1125.6" x2="121.2" y2="1125.6" stroke="#262626" stroke-width="1.3"/>
<line x1="981.5" y1="1125.6" x2="972.8" y2="1125.6" stroke="#262626" stroke-width="1.3"/>
<line x1="112.5" y1="1012.9" x2="121.2" y2="1012.9" stroke="#262626" stroke-width="1.3"/>
<line x1="981.5" y1="1012.9" x2="972.8" y2="1012.9" stroke="#262626" stroke-width="1.3"/>
<line x1="112.5" y1="900.1" x2="121.2" y2="900.1" stroke="#262626" stroke-width="1.3"/>
<line x1="981.5" y1="900.1" x2="972.8" y2="900.1" stroke="#262626" stroke-width="1.3"/>
<line x1="112.5" y1="787.4" x2="121.2" y2="787.4" stroke="#262626" stroke-width="1.3"/>
<line x1="981.5" y1="787.4" x2="972.8" y2="787.4" stroke="#262626" stroke-width="1.3"/>
<text x="99.3" y="1248.4" text-anchor="end" class="tk">0</text>
<text x="99.3" y="1135.6" text-anchor="end" class="tk">0.1</text>
<text x="99.3" y="1022.9" text-anchor="end" class="tk">0.2</text>
<text x="99.3" y="910.1" text-anchor="end" class="tk">0.3</text>
<text x="99.3" y="797.4" text-anchor="end" class="tk">0.4</text>
<text x="99.3" y="684.6" text-anchor="end" class="tk">0.5</text>
<text x="545.5" y="653.1" text-anchor="middle" class="tk" textLength="59.8" lengthAdjust="spacingAndGlyphs">8&#160;V</text>
<text x="-1.5" y="665.3" class="pl">(b)</text>
<text transform="translate(30,957.5) rotate(-90)" text-anchor="middle" class="tk" style="font-size:41px" textLength="238" lengthAdjust="spacingAndGlyphs">Velocity [m/s]</text>
<rect x="666.4" y="690.9" width="299.1" height="197.2" fill="#fff" stroke="#262626" stroke-width="1.2"/>
<line x1="672.8" y1="717.2" x2="731" y2="717.2" stroke="#000" stroke-width="4"/>
<text x="736.3" y="727.7" class="lg" textLength="222.0" lengthAdjust="spacingAndGlyphs">Max velocity</text>
<line x1="672.8" y1="765.3" x2="731" y2="765.3" stroke="#000" stroke-width="4" stroke-dasharray="3 3"/>
<text x="736.3" y="775.8" class="lg" textLength="187.5" lengthAdjust="spacingAndGlyphs">Device ON</text>
<line x1="672.8" y1="813.4" x2="731" y2="813.4" stroke="#F94B2B" stroke-width="4" stroke-dasharray="12 11"/>
<text x="736.3" y="823.9" class="lg" textLength="164.5" lengthAdjust="spacingAndGlyphs">Rise time</text>
<line x1="672.8" y1="861.5" x2="731" y2="861.5" stroke="#6255A8" stroke-width="4" stroke-dasharray="12 11"/>
<text x="736.3" y="872.0" class="lg" textLength="155.5" lengthAdjust="spacingAndGlyphs">Fall time</text>
<clipPath id="clipc"><rect x="110.0" y="1319.8" width="874.0" height="565.5"/></clipPath>
<line x1="257.3" y1="1319.8" x2="257.3" y2="1882.8" stroke="#DEDEDE" stroke-width="1.2"/>
<line x1="402.2" y1="1319.8" x2="402.2" y2="1882.8" stroke="#DEDEDE" stroke-width="1.2"/>
<line x1="547.0" y1="1319.8" x2="547.0" y2="1882.8" stroke="#DEDEDE" stroke-width="1.2"/>
<line x1="691.8" y1="1319.8" x2="691.8" y2="1882.8" stroke="#DEDEDE" stroke-width="1.2"/>
<line x1="836.7" y1="1319.8" x2="836.7" y2="1882.8" stroke="#DEDEDE" stroke-width="1.2"/>
<line x1="112.5" y1="1770.2" x2="981.5" y2="1770.2" stroke="#DEDEDE" stroke-width="1.2"/>
<line x1="112.5" y1="1657.6" x2="981.5" y2="1657.6" stroke="#DEDEDE" stroke-width="1.2"/>
<line x1="112.5" y1="1545.0" x2="981.5" y2="1545.0" stroke="#DEDEDE" stroke-width="1.2"/>
<line x1="112.5" y1="1432.4" x2="981.5" y2="1432.4" stroke="#DEDEDE" stroke-width="1.2"/>
<g clip-path="url(#clipc)">
<polyline fill="none" stroke="#000" stroke-width="4" stroke-linejoin="round" stroke-linecap="round" points="112.5,1757.5 113.2,1797.9 113.8,1759.0 114.5,1764.0 115.2,1791.5 115.8,1785.1 116.5,1792.6 117.2,1789.7 117.9,1757.3 118.5,1762.8 119.2,1768.2 119.9,1780.7 120.5,1786.0 121.2,1752.8 121.9,1759.4 122.5,1766.4 123.2,1783.0 123.9,1781.5 124.5,1775.4 125.2,1778.5 125.9,1767.9 126.5,1760.6 127.2,1771.5 127.9,1791.4 128.6,1787.1 129.2,1765.2 129.9,1754.2 130.6,1766.4 131.2,1774.3 131.9,1753.1 132.6,1770.7 133.2,1765.0 133.9,1748.4 134.6,1730.0 135.2,1734.4 135.9,1723.7 136.6,1732.5 137.3,1688.7 137.9,1710.0 138.6,1708.4 139.3,1690.9 139.9,1675.7 140.6,1688.7 141.3,1691.5 141.9,1684.6 142.6,1682.2 143.3,1664.0 143.9,1665.6 144.6,1680.8 145.3,1665.7 145.9,1683.0 146.6,1699.7 147.3,1686.3 148.0,1682.2 148.6,1682.6 149.3,1677.1 150.0,1661.3 150.6,1675.3 151.3,1645.6 152.0,1640.2 152.6,1647.2 153.3,1638.8 154.0,1636.1 154.6,1618.0 155.3,1629.3 156.0,1622.7 156.7,1591.2 157.3,1589.9 158.0,1604.7 158.7,1587.2 159.3,1573.9 160.0,1580.8 160.7,1558.8 161.3,1577.7 162.0,1566.2 162.7,1563.3 163.3,1544.9 164.0,1554.7 164.7,1561.2 165.3,1573.0 166.0,1540.8 166.7,1541.2 167.4,1539.1 168.0,1520.5 168.7,1534.0 169.4,1546.1 170.0,1561.8 170.7,1557.6 171.4,1528.6 172.0,1570.4 172.7,1570.2 173.4,1561.7 174.0,1555.1 174.7,1512.3 175.4,1506.8 176.1,1515.5 176.7,1537.5 177.4,1511.8 178.1,1519.1 178.7,1525.1 179.4,1555.8 180.1,1533.1 180.7,1547.0 181.4,1505.0 182.1,1562.6 182.7,1552.7 183.4,1515.4 184.1,1532.5 184.7,1542.8 185.4,1505.4 186.1,1510.4 186.8,1567.3 187.4,1569.7 188.1,1512.2 188.8,1518.8 189.4,1525.4 190.1,1572.3 190.8,1501.2 191.4,1509.9 192.1,1561.4 192.8,1545.0 193.4,1552.7 194.1,1531.2 194.8,1529.5 195.5,1505.1 196.1,1529.1 196.8,1525.8 197.5,1531.2 198.1,1494.5 198.8,1504.3 199.5,1500.6 200.1,1545.4 200.8,1548.9 201.5,1557.9 202.1,1521.3 202.8,1517.0 203.5,1540.3 204.1,1549.9 204.8,1524.9 205.5,1548.9 206.2,1559.7 206.8,1523.7 207.5,1506.0 208.2,1523.3 208.8,1533.8 209.5,1560.7 210.2,1554.7 210.8,1539.7 211.5,1514.8 212.2,1522.8 212.8,1530.7 213.5,1529.3 214.2,1543.1 214.9,1560.4 215.5,1557.6 216.2,1527.6 216.9,1525.6 217.5,1544.0 218.2,1544.1 218.9,1535.2 219.5,1532.2 220.2,1520.8 220.9,1522.7 221.5,1511.2 222.2,1514.3 222.9,1506.1 223.6,1545.2 224.2,1519.7 224.9,1519.7 225.6,1518.0 226.2,1487.8 226.9,1471.7 227.6,1470.5 228.2,1489.2 228.9,1459.8 229.6,1501.2 230.2,1438.1 230.9,1444.6 231.6,1481.2 232.2,1449.2 232.9,1457.1 233.6,1447.2 234.3,1451.8 234.9,1487.1 235.6,1493.5 236.3,1478.8 236.9,1478.2 237.6,1481.0 238.3,1484.3 238.9,1439.8 239.6,1481.0 240.3,1455.4 240.9,1488.1 241.6,1484.8 242.3,1475.1 243.0,1483.5 243.6,1456.7 244.3,1416.0 245.0,1421.3 245.6,1426.5 246.3,1414.6 247.0,1435.6 247.6,1428.0 248.3,1434.3 249.0,1465.7 249.6,1450.5 250.3,1466.2 251.0,1457.0 251.6,1462.5 252.3,1451.9 253.0,1457.2 253.7,1480.3 254.3,1478.6 255.0,1480.9 255.7,1448.6 256.3,1459.5 257.0,1470.1 257.7,1493.2 258.3,1506.3 259.0,1507.3 259.7,1509.8 260.3,1513.4 261.0,1511.9 261.7,1478.2 262.4,1492.6 263.0,1526.7 263.7,1514.1 264.4,1517.7 265.0,1526.2 265.7,1507.9 266.4,1519.8 267.0,1534.9 267.7,1529.4 268.4,1526.3 269.0,1496.4 269.7,1513.1 270.4,1509.8 271.0,1513.1 271.7,1533.1 272.4,1530.7 273.1,1511.6 273.7,1531.2 274.4,1513.3 275.1,1505.6 275.7,1529.8 276.4,1532.0 277.1,1512.9 277.7,1518.8 278.4,1523.9 279.1,1529.8 279.7,1519.5 280.4,1527.0 281.1,1517.1 281.8,1539.1 282.4,1531.7 283.1,1538.3 283.8,1534.9 284.4,1546.4 285.1,1526.7 285.8,1523.6 286.4,1535.2 287.1,1534.5 287.8,1549.6 288.4,1541.3 289.1,1523.8 289.8,1532.9 290.4,1522.6 291.1,1526.8 291.8,1536.7 292.5,1528.4 293.1,1535.1 293.8,1537.2 294.5,1532.2 295.1,1525.1 295.8,1534.0 296.5,1539.9 297.1,1534.8 297.8,1518.3 298.5,1529.6 299.1,1541.0 299.8,1543.3 300.5,1520.7 301.2,1554.8 301.8,1538.6 302.5,1520.3 303.2,1538.7 303.8,1525.5 304.5,1531.8 305.2,1548.2 305.8,1544.0 306.5,1560.6 307.2,1520.4 307.8,1531.6 308.5,1521.7 309.2,1527.9 309.8,1534.2 310.5,1533.8 311.2,1549.7 311.9,1570.1 312.5,1563.9 313.2,1557.9 313.9,1527.4 314.5,1564.0 315.2,1545.5 315.9,1558.9 316.5,1567.1 317.2,1564.6 317.9,1548.1 318.5,1554.6 319.2,1540.4 319.9,1529.1 320.6,1541.6 321.2,1553.2 321.9,1549.3 322.6,1545.1 323.2,1518.4 323.9,1528.5 324.6,1530.2 325.2,1537.4 325.9,1531.6 326.6,1532.5 327.2,1529.0 327.9,1537.7 328.6,1536.6 329.2,1525.5 329.9,1526.8 330.6,1524.2 331.3,1514.0 331.9,1511.2 332.6,1472.4 333.3,1519.2 333.9,1513.1 334.6,1499.7 335.3,1501.8 335.9,1513.0 336.6,1494.4 337.3,1520.1 337.9,1534.6 338.6,1511.2 339.3,1522.9 340.0,1520.2 340.6,1520.9 341.3,1524.3 342.0,1500.2 342.6,1524.1 343.3,1511.2 344.0,1496.9 344.6,1508.8 345.3,1511.7 346.0,1515.4 346.6,1505.5 347.3,1519.9 348.0,1510.7 348.6,1507.4 349.3,1487.2 350.0,1506.5 350.7,1518.6 351.3,1499.4 352.0,1518.9 352.7,1515.8 353.3,1514.0 354.0,1500.1 354.7,1521.6 355.3,1519.5 356.0,1532.3 356.7,1531.2 357.3,1503.9 358.0,1518.7 358.7,1519.4 359.4,1528.2 360.0,1515.7 360.7,1513.1 361.4,1484.2 362.0,1490.6 362.7,1497.0 363.4,1489.8 364.0,1517.1 364.7,1493.3 365.4,1505.7 366.0,1510.7 366.7,1520.4 367.4,1516.7 368.0,1506.3 368.7,1510.6 369.4,1489.4 370.1,1500.7 370.7,1486.7 371.4,1479.6 372.1,1487.6 372.7,1495.7 373.4,1502.1 374.1,1502.5 374.7,1487.4 375.4,1499.5 376.1,1519.8 376.7,1522.9 377.4,1530.6 378.1,1494.9 378.8,1497.3 379.4,1507.6 380.1,1493.9 380.8,1514.9 381.4,1501.7 382.1,1514.1 382.8,1534.9 383.4,1511.3 384.1,1492.4 384.8,1490.0 385.4,1493.4 386.1,1500.1 386.8,1510.8 387.4,1502.5 388.1,1530.2 388.8,1503.8 389.5,1524.7 390.1,1495.4 390.8,1546.9 391.5,1527.0 392.1,1518.6 392.8,1546.2 393.5,1532.5 394.1,1513.4 394.8,1518.3 395.5,1536.9 396.1,1516.3 396.8,1499.7 397.5,1506.3 398.2,1524.9 398.8,1518.3 399.5,1528.9 400.2,1499.0 400.8,1526.4 401.5,1543.8 402.2,1493.5 402.8,1531.6 403.5,1544.1 404.2,1534.2 404.8,1519.6 405.5,1518.3 406.2,1504.5 406.8,1548.0 407.5,1529.8 408.2,1550.8 408.9,1551.0 409.5,1507.5 410.2,1511.2 410.9,1514.9 411.5,1543.6 412.2,1529.7 412.9,1522.3 413.5,1518.5 414.2,1501.1 414.9,1518.4 415.5,1535.9 416.2,1538.9 416.9,1508.2 417.6,1484.9 418.2,1489.0 418.9,1513.0 419.6,1507.7 420.2,1505.2 420.9,1508.4 421.6,1508.8 422.2,1507.0 422.9,1525.0 423.6,1521.8 424.2,1520.6 424.9,1512.4 425.6,1511.7 426.2,1527.4 426.9,1539.7 427.6,1543.7 428.3,1544.0 428.9,1548.4 429.6,1563.5 430.3,1556.9 430.9,1581.6 431.6,1587.6 432.3,1590.2 432.9,1605.4 433.6,1601.3 434.3,1607.7 434.9,1624.7 435.6,1637.5 436.3,1636.7 437.0,1644.7 437.6,1658.5 438.3,1660.5 439.0,1660.5 439.6,1672.4 440.3,1670.7 441.0,1674.5 441.6,1666.0 442.3,1667.2 443.0,1669.7 443.6,1673.6 444.3,1668.9 445.0,1676.3 445.7,1692.4 446.3,1688.0 447.0,1686.1 447.7,1677.8 448.3,1691.9 449.0,1694.6 449.7,1698.5 450.3,1684.1 451.0,1685.2 451.7,1676.0 452.3,1683.4 453.0,1704.6 453.7,1699.5 454.3,1697.3 455.0,1697.5 455.7,1688.9 456.4,1693.6 457.0,1698.6 457.7,1703.5 458.4,1698.5 459.0,1725.8 459.7,1725.5 460.4,1722.9 461.0,1696.8 461.7,1698.0 462.4,1720.6 463.0,1731.0 463.7,1716.6 464.4,1697.3 465.1,1710.5 465.7,1717.1 466.4,1719.9 467.1,1732.2 467.7,1731.4 468.4,1735.4 469.1,1730.9 469.7,1703.2 470.4,1732.3 471.1,1708.1 471.7,1708.2 472.4,1730.9 473.1,1703.7 473.7,1711.0 474.4,1723.0 475.1,1740.9 475.8,1716.3 476.4,1739.5 477.1,1725.7 477.8,1737.6 478.4,1746.3 479.1,1747.3 479.8,1719.9 480.4,1741.2 481.1,1744.3 481.8,1750.7 482.4,1760.8 483.1,1733.7 483.8,1740.0 484.5,1734.4 485.1,1740.0 485.8,1759.6 486.5,1756.8 487.1,1738.0 487.8,1739.3 488.5,1734.1 489.1,1777.0 489.8,1772.3 490.5,1736.8 491.1,1756.5 491.8,1741.7 492.5,1736.1 493.1,1756.8 493.8,1742.7 494.5,1771.1 495.2,1771.3 495.8,1750.6 496.5,1767.9 497.2,1754.1 497.8,1762.5 498.5,1741.0 499.2,1734.8 499.8,1760.4 500.5,1773.9 501.2,1769.6 501.8,1764.6 502.5,1749.0 503.2,1749.8 503.9,1764.4 504.5,1757.2 505.2,1744.2 505.9,1766.0 506.5,1766.0 507.2,1761.4 507.9,1755.2 508.5,1752.3 509.2,1752.2 509.9,1750.3 510.5,1766.0 511.2,1757.5 511.9,1755.9 512.5,1741.8 513.2,1743.5 513.9,1754.9 514.6,1761.7 515.2,1768.0 515.9,1769.0 516.6,1760.5 517.2,1765.4 517.9,1752.1 518.6,1754.1 519.2,1766.1 519.9,1772.8 520.6,1765.1 521.2,1762.3 521.9,1781.8 522.6,1752.9 523.3,1751.4 523.9,1760.5 524.6,1765.6 525.3,1749.8 525.9,1755.4 526.6,1776.8 527.3,1768.6 527.9,1765.2 528.6,1773.5 529.3,1787.8 529.9,1769.2 530.6,1774.1 531.3,1765.1 531.9,1771.1 532.6,1760.2 533.3,1773.5 534.0,1780.6 534.6,1746.9 535.3,1751.6 536.0,1756.3 536.6,1751.3 537.3,1755.9 538.0,1773.3 538.6,1753.0 539.3,1761.4 540.0,1744.9 540.6,1775.1 541.3,1747.3 542.0,1753.4 542.7,1759.6 543.3,1766.9 544.0,1772.3 544.7,1774.8 545.3,1782.7 546.0,1773.7 546.7,1790.1 547.3,1792.1 548.0,1786.3 548.7,1785.5 549.3,1789.4 550.0,1780.0 550.7,1785.1 551.3,1782.8 552.0,1764.1 552.7,1765.4 553.4,1754.3 554.0,1772.2 554.7,1761.8 555.4,1792.2 556.0,1791.2 556.7,1801.9 557.4,1794.9 558.0,1777.6 558.7,1755.4 559.4,1762.7 560.0,1790.7 560.7,1757.9 561.4,1788.4 562.1,1760.0 562.7,1772.3 563.4,1761.7 564.1,1744.7 564.7,1743.6 565.4,1744.7 566.1,1756.3 566.7,1778.8 567.4,1760.8 568.1,1749.3 568.7,1778.8 569.4,1772.0 570.1,1790.9 570.7,1783.6 571.4,1772.8 572.1,1784.6 572.8,1793.8 573.4,1768.8 574.1,1779.0 574.8,1771.9 575.4,1770.8 576.1,1779.6 576.8,1795.8 577.4,1764.4 578.1,1793.5 578.8,1793.9 579.4,1780.4 580.1,1799.3 580.8,1793.7 581.5,1792.3 582.1,1788.9 582.8,1775.3 583.5,1782.1 584.1,1796.9 584.8,1797.5 585.5,1778.0 586.1,1769.5 586.8,1791.6 587.5,1800.6 588.1,1791.3 588.8,1791.1 589.5,1792.1 590.1,1806.9 590.8,1782.1 591.5,1813.9 592.2,1810.0 592.8,1782.6 593.5,1795.8 594.2,1799.0 594.8,1801.1 595.5,1780.4 596.2,1808.6 596.8,1798.7 597.5,1789.8 598.2,1808.6 598.8,1793.8 599.5,1806.0 600.2,1804.8 600.9,1789.6 601.5,1797.4 602.2,1792.8 602.9,1783.9 603.5,1800.5 604.2,1799.4 604.9,1806.8 605.5,1804.8 606.2,1788.6 606.9,1793.6 607.5,1796.4 608.2,1800.1 608.9,1806.5 609.5,1794.8 610.2,1799.6 610.9,1801.8 611.6,1784.3 612.2,1801.5 612.9,1802.0 613.6,1813.5 614.2,1811.4 614.9,1812.6 615.6,1807.7 616.2,1809.6 616.9,1768.6 617.6,1774.9 618.2,1781.1 618.9,1789.4 619.6,1776.7 620.3,1790.1 620.9,1792.3 621.6,1815.3 622.3,1765.4 622.9,1781.7 623.6,1789.1 624.3,1789.0 624.9,1767.4 625.6,1783.6 626.3,1800.3 626.9,1809.8 627.6,1811.7 628.3,1794.5 628.9,1772.6 629.6,1792.0 630.3,1788.5 631.0,1800.7 631.6,1800.3 632.3,1813.8 633.0,1796.8 633.6,1780.2 634.3,1781.5 635.0,1774.6 635.6,1806.0 636.3,1807.4 637.0,1784.0 637.6,1772.2 638.3,1805.8 639.0,1791.7 639.7,1780.3 640.3,1778.3 641.0,1789.3 641.7,1796.4 642.3,1782.3 643.0,1788.6 643.7,1794.5 644.3,1807.8 645.0,1808.9 645.7,1798.0 646.3,1805.2 647.0,1787.1 647.7,1783.4 648.3,1784.2 649.0,1796.9 649.7,1792.1 650.4,1775.4 651.0,1791.5 651.7,1777.8 652.4,1780.4 653.0,1787.1 653.7,1776.7 654.4,1785.8 655.0,1781.6 655.7,1784.8 656.4,1799.7 657.0,1803.3 657.7,1792.3 658.4,1800.9 659.1,1796.2 659.7,1792.2 660.4,1767.2 661.1,1766.8 661.7,1797.0 662.4,1796.8 663.1,1776.3 663.7,1764.3 664.4,1778.9 665.1,1800.3 665.7,1778.8 666.4,1789.4 667.1,1800.8 667.8,1798.8 668.4,1760.7 669.1,1795.2 669.8,1798.4 670.4,1772.5 671.1,1770.5 671.8,1796.3 672.4,1789.1 673.1,1794.9 673.8,1800.2 674.4,1789.3 675.1,1788.6 675.8,1791.2 676.4,1794.0 677.1,1783.5 677.8,1767.4 678.5,1762.4 679.1,1768.7 679.8,1760.1 680.5,1787.5 681.1,1771.5 681.8,1772.6 682.5,1764.5 683.1,1748.4 683.8,1781.7 684.5,1783.7 685.1,1778.3 685.8,1793.5 686.5,1789.5 687.2,1786.6 687.8,1781.0 688.5,1796.3 689.2,1792.5 689.8,1792.7 690.5,1767.7 691.2,1770.1 691.8,1798.5 692.5,1817.6 693.2,1781.4 693.8,1761.2 694.5,1766.6 695.2,1768.4 695.8,1792.1 696.5,1812.3 697.2,1786.7 697.9,1792.0 698.5,1789.7 699.2,1769.1 699.9,1802.9 700.5,1781.8 701.2,1786.4 701.9,1792.4 702.5,1807.6 703.2,1812.6 703.9,1797.2 704.5,1805.3 705.2,1780.9 705.9,1786.9 706.6,1792.8 707.2,1792.9 707.9,1822.3 708.6,1823.0 709.2,1802.5 709.9,1792.0 710.6,1811.0 711.2,1795.9 711.9,1785.9 712.6,1790.9 713.2,1795.7 713.9,1785.6 714.6,1783.2 715.2,1787.8 715.9,1815.1 716.6,1799.2 717.3,1818.5 717.9,1821.6 718.6,1795.8 719.3,1803.8 719.9,1783.6 720.6,1802.7 721.3,1781.2 721.9,1780.6 722.6,1809.3 723.3,1797.5 723.9,1773.1 724.6,1799.7 725.3,1808.4 726.0,1807.5 726.6,1775.8 727.3,1782.8 728.0,1760.2 728.6,1780.0 729.3,1789.6 730.0,1818.7 730.6,1804.7 731.3,1797.5 732.0,1763.1 732.6,1780.0 733.3,1785.9 734.0,1801.2 734.6,1779.2 735.3,1795.7 736.0,1793.7 736.7,1762.0 737.3,1783.9 738.0,1783.7 738.7,1760.9 739.3,1765.2 740.0,1769.5 740.7,1792.7 741.3,1759.8 742.0,1772.5 742.7,1754.8 743.3,1778.1 744.0,1775.5 744.7,1776.3 745.4,1764.1 746.0,1760.8 746.7,1767.1 747.4,1751.9 748.0,1764.2 748.7,1761.0 749.4,1758.1 750.0,1772.7 750.7,1783.0 751.4,1782.0 752.0,1782.4 752.7,1788.9 753.4,1766.0 754.0,1771.3 754.7,1773.1 755.4,1780.3 756.1,1762.4 756.7,1751.3 757.4,1759.4 758.1,1756.0 758.7,1773.9 759.4,1751.1 760.1,1750.9 760.7,1772.1 761.4,1750.8 762.1,1730.2 762.7,1752.9 763.4,1752.4 764.1,1765.7 764.8,1766.1 765.4,1752.6 766.1,1752.8 766.8,1764.2 767.4,1734.0 768.1,1742.9 768.8,1746.1 769.4,1760.1 770.1,1748.6 770.8,1743.2 771.4,1740.4 772.1,1736.1 772.8,1765.2 773.4,1747.7 774.1,1754.6 774.8,1744.0 775.5,1744.8 776.1,1763.7 776.8,1762.7 777.5,1746.2 778.1,1742.8 778.8,1737.9 779.5,1739.1 780.1,1747.9 780.8,1770.9 781.5,1763.1 782.1,1749.2 782.8,1760.4 783.5,1726.4 784.2,1731.7 784.8,1747.3 785.5,1746.4 786.2,1761.1 786.8,1758.7 787.5,1722.9 788.2,1729.6 788.8,1761.4 789.5,1754.7 790.2,1737.2 790.8,1735.3 791.5,1728.9 792.2,1740.1 792.8,1744.7 793.5,1755.0 794.2,1767.2 794.9,1729.6 795.5,1735.9 796.2,1741.8 796.9,1752.5 797.5,1768.9 798.2,1752.3 798.9,1748.1 799.5,1757.3 800.2,1749.1 800.9,1765.2 801.5,1779.0 802.2,1769.5 802.9,1776.6 803.6,1749.6 804.2,1752.2 804.9,1758.8 805.6,1750.4 806.2,1727.0 806.9,1718.6 807.6,1738.4 808.2,1741.7 808.9,1758.3 809.6,1746.5 810.2,1745.9 810.9,1752.0 811.6,1749.3 812.2,1762.0 812.9,1768.8 813.6,1767.4 814.3,1759.7 814.9,1723.5 815.6,1728.7 816.3,1757.2 816.9,1758.4 817.6,1742.4 818.3,1743.6 818.9,1754.6 819.6,1735.2 820.3,1736.4 820.9,1728.7 821.6,1727.8 822.3,1731.2 823.0,1736.6 823.6,1754.5 824.3,1750.6 825.0,1753.8 825.6,1725.7 826.3,1729.9 827.0,1734.1 827.6,1741.4 828.3,1730.3 829.0,1727.3 829.6,1728.4 830.3,1756.1 831.0,1757.5 831.6,1750.1 832.3,1745.7 833.0,1764.3 833.7,1757.5 834.3,1727.5 835.0,1751.1 835.7,1741.0 836.3,1720.6 837.0,1730.1 837.7,1729.0 838.3,1731.9 839.0,1716.5 839.7,1723.1 840.3,1750.0 841.0,1732.9 841.7,1748.6 842.4,1718.2 843.0,1724.6 843.7,1753.4 844.4,1742.7 845.0,1735.2 845.7,1741.3 846.4,1746.5 847.0,1731.7 847.7,1734.7 848.4,1758.3 849.0,1758.6 849.7,1729.3 850.4,1739.8 851.0,1761.7 851.7,1762.6 852.4,1756.4 853.1,1759.8 853.7,1744.2 854.4,1747.8 855.1,1741.9 855.7,1758.7 856.4,1726.0 857.1,1731.0 857.7,1751.7 858.4,1728.0 859.1,1731.5 859.7,1736.8 860.4,1749.6 861.1,1763.7 861.8,1754.4 862.4,1749.9 863.1,1749.6 863.8,1755.2 864.4,1757.9 865.1,1761.1 865.8,1772.8 866.4,1780.7 867.1,1771.2 867.8,1764.1 868.4,1769.0 869.1,1783.6 869.8,1780.6 870.4,1784.2 871.1,1757.9 871.8,1784.2 872.5,1782.4 873.1,1775.5 873.8,1776.2 874.5,1747.2 875.1,1779.7 875.8,1798.1 876.5,1771.4 877.1,1753.6 877.8,1741.8 878.5,1755.0 879.1,1756.1 879.8,1769.6 880.5,1785.0 881.2,1783.4 881.8,1770.1 882.5,1778.7 883.2,1752.3 883.8,1737.5 884.5,1763.0 885.2,1749.9 885.8,1760.7 886.5,1780.7 887.2,1784.3 887.8,1780.7 888.5,1758.3 889.2,1749.7 889.9,1755.1 890.5,1770.2 891.2,1759.5 891.9,1769.3 892.5,1775.2 893.2,1774.9 893.9,1774.2 894.5,1761.6 895.2,1769.9 895.9,1764.3 896.5,1751.8 897.2,1779.0 897.9,1789.4 898.5,1772.9 899.2,1773.4 899.9,1778.2 900.6,1774.9 901.2,1783.6 901.9,1788.4 902.6,1788.1 903.2,1770.6 903.9,1787.0 904.6,1789.7 905.2,1762.9 905.9,1775.8 906.6,1766.4 907.2,1775.7 907.9,1779.3 908.6,1771.3 909.3,1776.4 909.9,1783.5 910.6,1781.9 911.3,1784.9 911.9,1777.7 912.6,1775.9 913.3,1749.4 913.9,1752.7 914.6,1756.8 915.3,1760.9 915.9,1766.2 916.6,1753.6 917.3,1752.1 917.9,1772.4 918.6,1769.3 919.3,1749.1 920.0,1764.3 920.6,1742.7 921.3,1748.9 922.0,1755.0 922.6,1772.9 923.3,1750.2 924.0,1754.3 924.6,1758.4 925.3,1787.3 926.0,1777.1 926.6,1759.9 927.3,1755.1 928.0,1781.9 928.7,1748.4 929.3,1779.5 930.0,1787.9 930.7,1776.9 931.3,1755.4 932.0,1757.5 932.7,1756.9 933.3,1761.4 934.0,1789.4 934.7,1790.8 935.3,1785.2 936.0,1765.6 936.7,1784.6 937.3,1787.5 938.0,1769.0 938.7,1788.5 939.4,1790.2 940.0,1791.5 940.7,1758.4 941.4,1763.2 942.0,1770.0 942.7,1787.4 943.4,1756.4 944.0,1768.7 944.7,1773.9 945.4,1773.4 946.0,1777.9 946.7,1755.3 947.4,1761.3 948.1,1767.2 948.7,1779.3 949.4,1786.5 950.1,1784.0 950.7,1770.1 951.4,1779.5 952.1,1768.4 952.7,1779.9 953.4,1782.8 954.1,1767.2 954.7,1785.9 955.4,1764.0 956.1,1767.1 956.7,1779.0 957.4,1780.6 958.1,1777.0 958.8,1772.2 959.4,1780.1 960.1,1789.2 960.8,1788.4 961.4,1772.0 962.1,1777.5 962.8,1786.9 963.4,1765.5 964.1,1767.4 964.8,1783.1 965.4,1787.9 966.1,1787.6 966.8,1788.3 967.5,1779.0 968.1,1783.9 968.8,1777.9 969.5,1778.5 970.1,1769.9 970.8,1765.2 971.5,1764.9 972.1,1795.3 972.8,1778.1 973.5,1769.0 974.1,1773.2 974.8,1780.1 975.5,1796.4 976.1,1774.2 976.8,1777.1 977.5,1795.1 978.2,1800.7 978.8,1784.9 979.5,1770.7 980.2,1775.6 980.8,1798.5 981.5,1797.8"/>
<polyline fill="none" stroke="#000" stroke-width="4" stroke-dasharray="3 3" points="112.5,1882.8 129.6,1882.8 129.6,1299.8 419.0,1299.8 419.0,1882.8 981.5,1882.8"/>
<line x1="164.4" y1="1882.8" x2="164.4" y2="1319.8" stroke="rgba(255,0,0,0.74)" stroke-width="4" stroke-dasharray="12.5 11.3"/>
<line x1="493.1" y1="1882.8" x2="493.1" y2="1319.8" stroke="rgba(0,0,255,0.74)" stroke-width="4" stroke-dasharray="12.5 11.3"/>
</g>
<rect x="112.5" y="1319.8" width="869.0" height="563.0" fill="none" stroke="#262626" stroke-width="1.3"/>
<line x1="257.3" y1="1882.8" x2="257.3" y2="1874.1" stroke="#262626" stroke-width="1.3"/>
<line x1="257.3" y1="1319.8" x2="257.3" y2="1328.5" stroke="#262626" stroke-width="1.3"/>
<line x1="402.2" y1="1882.8" x2="402.2" y2="1874.1" stroke="#262626" stroke-width="1.3"/>
<line x1="402.2" y1="1319.8" x2="402.2" y2="1328.5" stroke="#262626" stroke-width="1.3"/>
<line x1="547.0" y1="1882.8" x2="547.0" y2="1874.1" stroke="#262626" stroke-width="1.3"/>
<line x1="547.0" y1="1319.8" x2="547.0" y2="1328.5" stroke="#262626" stroke-width="1.3"/>
<line x1="691.8" y1="1882.8" x2="691.8" y2="1874.1" stroke="#262626" stroke-width="1.3"/>
<line x1="691.8" y1="1319.8" x2="691.8" y2="1328.5" stroke="#262626" stroke-width="1.3"/>
<line x1="836.7" y1="1882.8" x2="836.7" y2="1874.1" stroke="#262626" stroke-width="1.3"/>
<line x1="836.7" y1="1319.8" x2="836.7" y2="1328.5" stroke="#262626" stroke-width="1.3"/>
<line x1="112.5" y1="1770.2" x2="121.2" y2="1770.2" stroke="#262626" stroke-width="1.3"/>
<line x1="981.5" y1="1770.2" x2="972.8" y2="1770.2" stroke="#262626" stroke-width="1.3"/>
<line x1="112.5" y1="1657.6" x2="121.2" y2="1657.6" stroke="#262626" stroke-width="1.3"/>
<line x1="981.5" y1="1657.6" x2="972.8" y2="1657.6" stroke="#262626" stroke-width="1.3"/>
<line x1="112.5" y1="1545.0" x2="121.2" y2="1545.0" stroke="#262626" stroke-width="1.3"/>
<line x1="981.5" y1="1545.0" x2="972.8" y2="1545.0" stroke="#262626" stroke-width="1.3"/>
<line x1="112.5" y1="1432.4" x2="121.2" y2="1432.4" stroke="#262626" stroke-width="1.3"/>
<line x1="981.5" y1="1432.4" x2="972.8" y2="1432.4" stroke="#262626" stroke-width="1.3"/>
<text x="99.3" y="1892.8" text-anchor="end" class="tk">0</text>
<text x="99.3" y="1780.2" text-anchor="end" class="tk">0.1</text>
<text x="99.3" y="1667.6" text-anchor="end" class="tk">0.2</text>
<text x="99.3" y="1555.0" text-anchor="end" class="tk">0.3</text>
<text x="99.3" y="1442.4" text-anchor="end" class="tk">0.4</text>
<text x="99.3" y="1329.8" text-anchor="end" class="tk">0.5</text>
<text x="545.9" y="1298.3" text-anchor="middle" class="tk" textLength="82.8" lengthAdjust="spacingAndGlyphs">10&#160;V</text>
<text x="-1.5" y="1299.5" class="pl">(c)</text>
<text transform="translate(30,1602.3) rotate(-90)" text-anchor="middle" class="tk" style="font-size:41px" textLength="238" lengthAdjust="spacingAndGlyphs">Velocity [m/s]</text>
<rect x="666.4" y="1336.1" width="299.1" height="197.2" fill="#fff" stroke="#262626" stroke-width="1.2"/>
<line x1="672.8" y1="1362.4" x2="731" y2="1362.4" stroke="#000" stroke-width="4"/>
<text x="736.3" y="1372.9" class="lg" textLength="222.0" lengthAdjust="spacingAndGlyphs">Max velocity</text>
<line x1="672.8" y1="1410.5" x2="731" y2="1410.5" stroke="#000" stroke-width="4" stroke-dasharray="3 3"/>
<text x="736.3" y="1421.0" class="lg" textLength="187.5" lengthAdjust="spacingAndGlyphs">Device ON</text>
<line x1="672.8" y1="1458.6" x2="731" y2="1458.6" stroke="rgba(255,0,0,0.74)" stroke-width="4" stroke-dasharray="12 11"/>
<text x="736.3" y="1469.1" class="lg" textLength="164.5" lengthAdjust="spacingAndGlyphs">Rise time</text>
<line x1="672.8" y1="1506.7" x2="731" y2="1506.7" stroke="rgba(0,0,255,0.74)" stroke-width="4" stroke-dasharray="12 11"/>
<text x="736.3" y="1517.2" class="lg" textLength="155.5" lengthAdjust="spacingAndGlyphs">Fall time</text>
<text x="112.5" y="1927.6" text-anchor="middle" class="tk">0</text>
<text x="257.3" y="1927.6" text-anchor="middle" class="tk">5</text>
<text x="402.2" y="1927.6" text-anchor="middle" class="tk">10</text>
<text x="547.0" y="1927.6" text-anchor="middle" class="tk">15</text>
<text x="691.8" y="1927.6" text-anchor="middle" class="tk">20</text>
<text x="836.7" y="1927.6" text-anchor="middle" class="tk">25</text>
<text x="981.5" y="1927.6" text-anchor="middle" class="tk">30</text>
<text x="514" y="1977.4" class="tk" style="font-style:italic">t</text>
<text x="543.6" y="1977.4" class="tk" textLength="33" lengthAdjust="spacingAndGlyphs">[s]</text>
</svg>
</body></html>
